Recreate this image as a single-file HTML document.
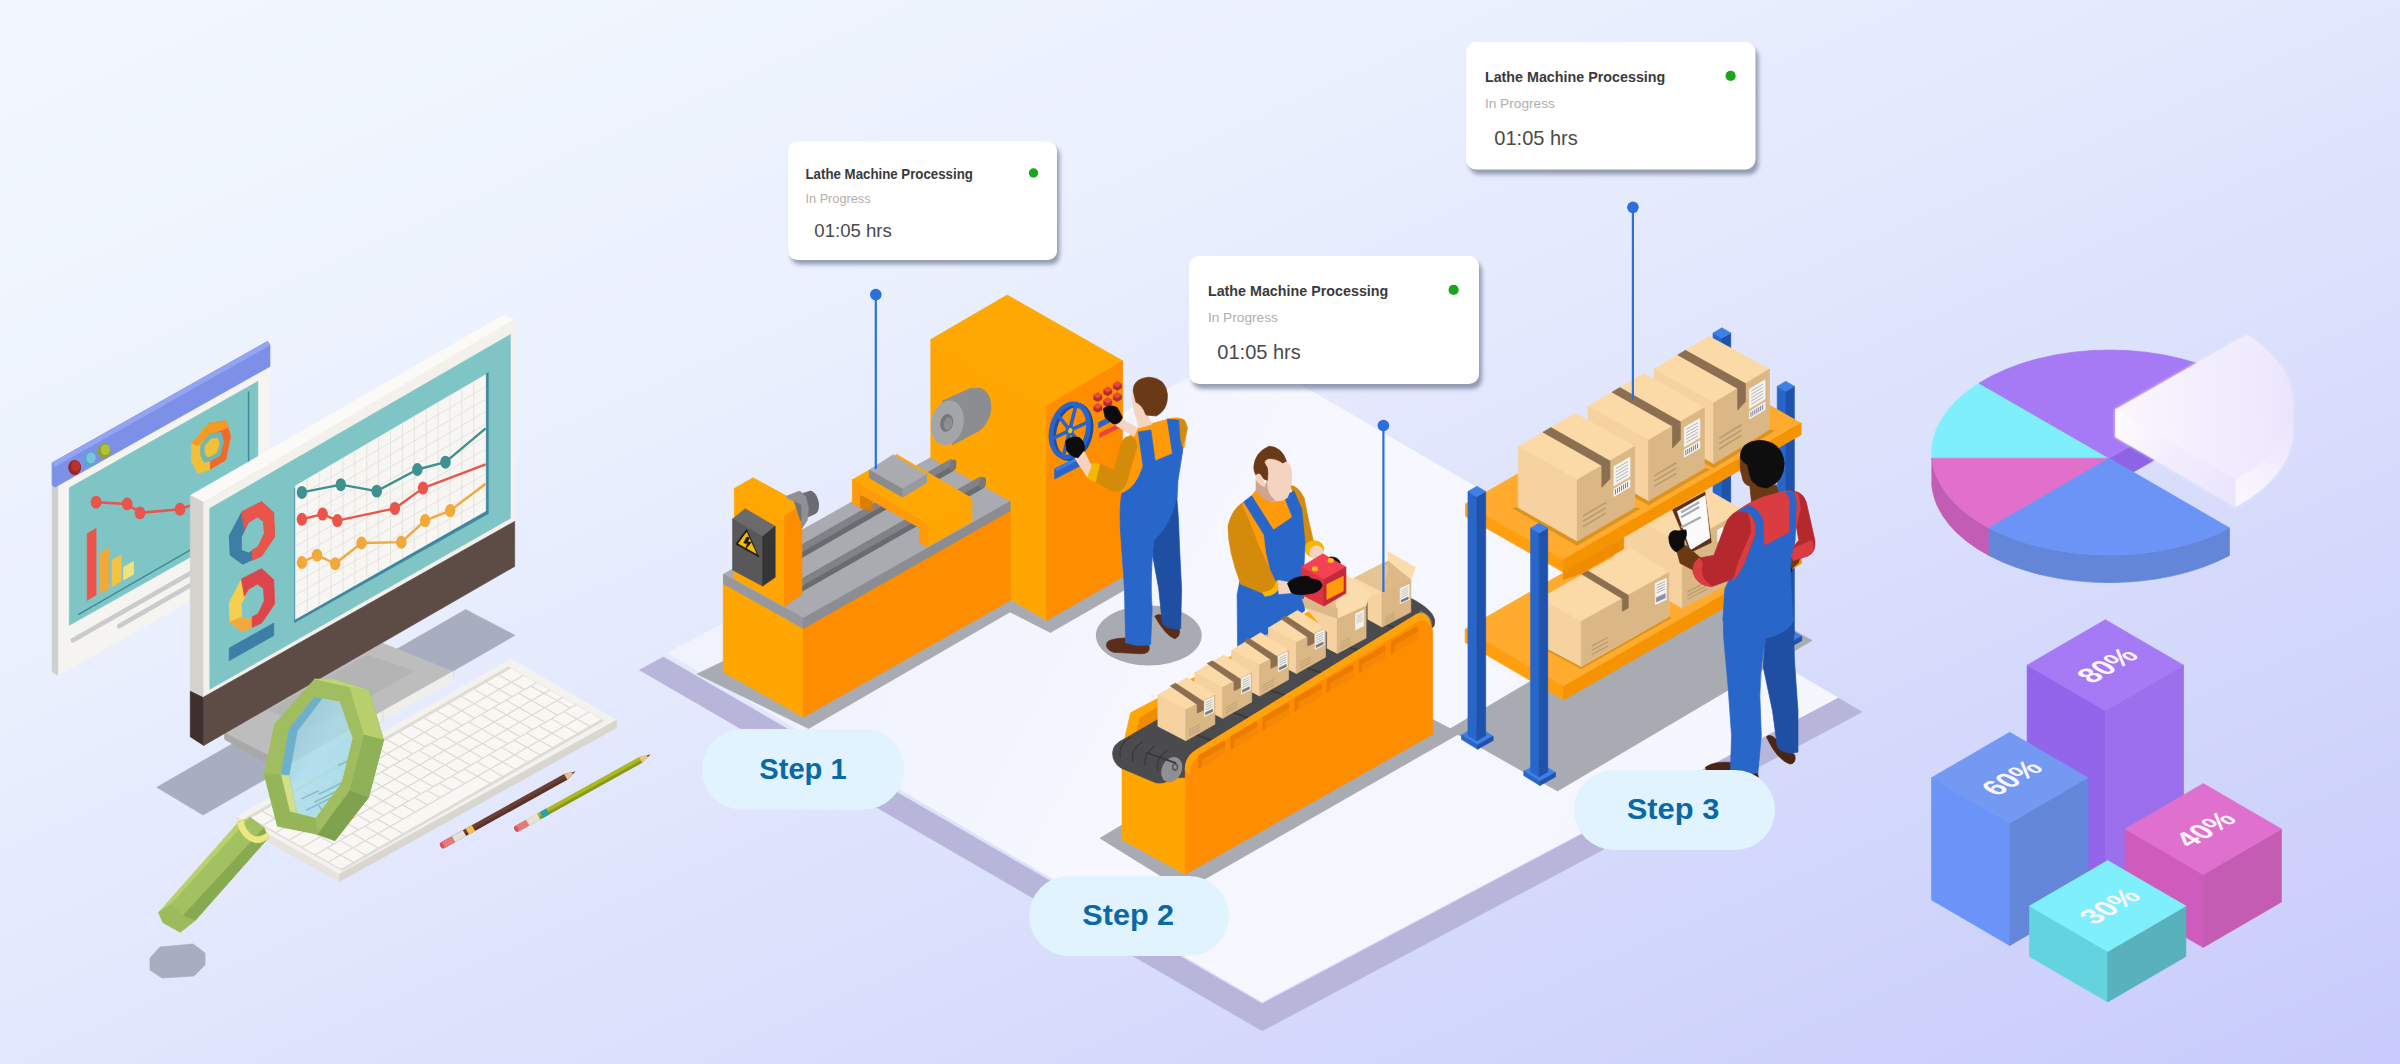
<!DOCTYPE html>
<html><head><meta charset="utf-8"><title>Factory</title>
<style>
html,body{margin:0;padding:0;}
body{width:2400px;height:1064px;overflow:hidden;font-family:"Liberation Sans",sans-serif;}
#stage{position:relative;width:2400px;height:1064px;overflow:hidden;
background:linear-gradient(to bottom right,#f3f8fe 0%,#ebf1fd 30%,#e2e7fd 50%,#d3d8fc 77%,#c8cbfb 100%);}
svg{position:absolute;left:0;top:0;}
text{font-family:"Liberation Sans",sans-serif;}
</style></head><body><div id="stage">
<svg width="2400" height="1064" viewBox="0 0 2400 1064">
<!-- p_floor --><defs>
<linearGradient id="gfloor" gradientUnits="userSpaceOnUse" x1="900" y1="470" x2="1560" y2="860">
<stop offset="0" stop-color="#f4f6fe" stop-opacity="0.75"/><stop offset="0.45" stop-color="#f6f7ff" stop-opacity="1"/><stop offset="1" stop-color="#f5f6fe"/></linearGradient>
</defs><polygon points="663.4,657 639.5,670 1262.2,1030.8 1862,712 1838.3,698.1 1262.2,1004" fill="#b7b6da" stroke="#b7b6da" stroke-width="0.7" vector-effect="non-scaling-stroke" stroke-linejoin="round" /><polygon points="667,653 1241,350 1838.3,697.5 1262.2,1002.2" fill="url(#gfloor)" />
<!-- p_desk --><polygon points="156.8,787.3 203,815 515,635.3 465.6,609.6" fill="#a9adc0" stroke="#a9adc0" stroke-width="0.7" vector-effect="non-scaling-stroke" stroke-linejoin="round" /><g transform="translate(30,320) scale(0.35714)"><polygon points="78,412 672,72 672,662 78,995" fill="#f5f4f1" stroke="#f5f4f1" stroke-width="0.7" vector-effect="non-scaling-stroke" stroke-linejoin="round" /><polygon points="62,400 78,412 78,995 62,985" fill="#cfcfcf" stroke="#cfcfcf" stroke-width="0.7" vector-effect="non-scaling-stroke" stroke-linejoin="round" /><polygon points="62,400 665,60 672,70 672,130 70,468 62,462" fill="#7d90e8" stroke="#7d90e8" stroke-width="0.7" vector-effect="non-scaling-stroke" stroke-linejoin="round" /><polygon points="62,400 665,60 672,70 70,410" fill="#94a4f0" stroke="#94a4f0" stroke-width="0.7" vector-effect="non-scaling-stroke" stroke-linejoin="round" /><polygon points="110,470 638,172 638,557 110,855" fill="#80c5c5" stroke="#80c5c5" stroke-width="0.7" vector-effect="non-scaling-stroke" stroke-linejoin="round" /><ellipse cx="125" cy="413" rx="18" ry="21" fill="#9c2322"/><ellipse cx="128" cy="409" rx="13" ry="15" fill="#b83330"/><ellipse cx="168" cy="390" rx="18" ry="21" fill="#58a9c9"/><ellipse cx="171" cy="386" rx="13" ry="15" fill="#7cc4dc"/><ellipse cx="208" cy="367" rx="18" ry="21" fill="#8fa324"/><ellipse cx="211" cy="363" rx="13" ry="15" fill="#b0c23a"/><polygon points="453,345 500,290 548,282 562,325 548,392 500,420 470,430 452,395" fill="#f2c037" stroke="#f2c037" stroke-width="0.7" vector-effect="non-scaling-stroke" stroke-linejoin="round" /><polygon points="500,290 548,282 562,325 548,392 505,418 505,355" fill="#ee6a2c" stroke="#ee6a2c" stroke-width="0.7" vector-effect="non-scaling-stroke" stroke-linejoin="round" /><polygon points="453,345 500,290 548,282 556,300 505,320 470,352" fill="#f59a23" stroke="#f59a23" stroke-width="0.7" vector-effect="non-scaling-stroke" stroke-linejoin="round" /><polygon points="478,350 505,318 535,315 542,340 533,378 505,395 487,398 478,380" fill="#6db7b7" stroke="#6db7b7" stroke-width="0.7" vector-effect="non-scaling-stroke" stroke-linejoin="round" /><polygon points="490,352 507,333 525,331 530,346 524,370 507,381 495,383 490,371" fill="#f2c037" stroke="#f2c037" stroke-width="0.7" vector-effect="non-scaling-stroke" stroke-linejoin="round" /><line x1="612" y1="200" x2="612" y2="560" stroke="#3d8a9a" stroke-width="4"/><polyline points="185,510 272,515 308,540 420,530 470,512" fill="none" stroke="#e9554b" stroke-width="7"/><ellipse cx="185" cy="510" rx="15" ry="18" fill="#e9554b"/><ellipse cx="272" cy="515" rx="15" ry="18" fill="#e9554b"/><ellipse cx="308" cy="540" rx="15" ry="18" fill="#e9554b"/><ellipse cx="420" cy="530" rx="15" ry="18" fill="#e9554b"/><polygon points="160,598 185,584 185,770 160,785" fill="#e9554b" stroke="#e9554b" stroke-width="0.7" vector-effect="non-scaling-stroke" stroke-linejoin="round" /><polygon points="195,652 220,638 220,752 195,766" fill="#f2a93b" stroke="#f2a93b" stroke-width="0.7" vector-effect="non-scaling-stroke" stroke-linejoin="round" /><polygon points="230,672 255,658 255,732 230,746" fill="#f5c242" stroke="#f5c242" stroke-width="0.7" vector-effect="non-scaling-stroke" stroke-linejoin="round" /><polygon points="262,692 290,676 290,712 262,728" fill="#f2e27a" stroke="#f2e27a" stroke-width="0.7" vector-effect="non-scaling-stroke" stroke-linejoin="round" /><line x1="135" y1="825" x2="470" y2="632" stroke="#3d8a9a" stroke-width="4"/><line x1="120" y1="897" x2="470" y2="697" stroke="#cbcbcb" stroke-width="13" stroke-linecap="round"/><line x1="250" y1="857" x2="470" y2="731" stroke="#cbcbcb" stroke-width="13" stroke-linecap="round"/></g><g transform="translate(130,580) scale(0.39484)"><polygon points="240,388 640,160 818,232 818,252 400,490 240,400" fill="#bdbdbd" stroke="#bdbdbd" stroke-width="0.7" vector-effect="non-scaling-stroke" stroke-linejoin="round" /><polygon points="640,332 818,232 818,256 640,356" fill="#f0eeea" stroke="#f0eeea" stroke-width="0.7" vector-effect="non-scaling-stroke" stroke-linejoin="round" /><polygon points="240,388 400,470 640,332 640,356 400,494 240,404" fill="#a9a9a9" stroke="#a9a9a9" stroke-width="0.7" vector-effect="non-scaling-stroke" stroke-linejoin="round" /><polygon points="400,470 640,332 640,356 400,494" fill="#f0eeea" stroke="#f0eeea" stroke-width="0.7" vector-effect="non-scaling-stroke" stroke-linejoin="round" /><polygon points="350,330 600,190 720,230 470,372" fill="#b4b4b4" stroke="#b4b4b4" stroke-width="0.7" vector-effect="non-scaling-stroke" stroke-linejoin="round" /><polygon points="270,600 965,200 1232,355 530,745" fill="#f4f2ee" stroke="#f4f2ee" stroke-width="0.7" vector-effect="non-scaling-stroke" stroke-linejoin="round" /><polygon points="270,600 530,745 530,764 270,619" fill="#e6e3de" stroke="#e6e3de" stroke-width="0.7" vector-effect="non-scaling-stroke" stroke-linejoin="round" /><polygon points="530,745 1232,355 1232,374 530,764" fill="#d9d6d0" stroke="#d9d6d0" stroke-width="0.7" vector-effect="non-scaling-stroke" stroke-linejoin="round" /><polygon points="296,601 958,220 1200,356 538,736" fill="#dedbd5" stroke="#dedbd5" stroke-width="0.7" vector-effect="non-scaling-stroke" stroke-linejoin="round" /><path d="M305.9,603.0 L334.3,586.7 L364.1,603.4 L335.7,619.8Z M337.4,584.9 L365.8,568.5 L395.6,585.3 L367.3,601.6Z M368.9,566.7 L397.3,550.4 L427.1,567.2 L398.8,583.5Z M400.5,548.6 L428.8,532.2 L458.7,549.0 L430.3,565.3Z M432.0,530.4 L460.4,514.1 L490.2,530.9 L461.8,547.2Z M463.5,512.3 L491.9,496.0 L521.7,512.7 L493.3,529.1Z M495.0,494.1 L523.4,477.8 L553.2,494.6 L524.9,510.9Z M526.6,476.0 L554.9,459.7 L584.8,476.4 L556.4,492.8Z M558.1,457.9 L586.5,441.5 L616.3,458.3 L587.9,474.6Z M589.6,439.7 L618.0,423.4 L647.8,440.2 L619.4,456.5Z M621.1,421.6 L649.5,405.2 L679.3,422.0 L651.0,438.3Z M652.7,403.4 L681.0,387.1 L710.9,403.9 L682.5,420.2Z M684.2,385.3 L712.5,369.0 L742.4,385.7 L714.0,402.1Z M715.7,367.1 L744.1,350.8 L773.9,367.6 L745.5,383.9Z M747.2,349.0 L775.6,332.7 L805.4,349.4 L777.1,365.8Z M778.7,330.9 L807.1,314.5 L837.0,331.3 L808.6,347.6Z M810.3,312.7 L838.6,296.4 L868.5,313.2 L840.1,329.5Z M841.8,294.6 L870.2,278.2 L900.0,295.0 L871.6,311.3Z M873.3,276.4 L901.7,260.1 L931.5,276.9 L903.2,293.2Z M904.8,258.3 L933.2,242.0 L963.1,258.7 L934.7,275.1Z M936.4,240.1 L964.7,223.8 L994.6,240.6 L966.2,256.9Z M339.0,621.6 L367.4,605.3 L397.2,622.1 L368.9,638.4Z M370.6,603.5 L398.9,587.2 L428.8,603.9 L400.4,620.3Z M402.1,585.3 L430.5,569.0 L460.3,585.8 L431.9,602.1Z M433.6,567.2 L462.0,550.9 L491.8,567.6 L463.4,584.0Z M465.1,549.1 L493.5,532.7 L523.3,549.5 L495.0,565.8Z M496.7,530.9 L525.0,514.6 L554.9,531.4 L526.5,547.7Z M528.2,512.8 L556.6,496.4 L586.4,513.2 L558.0,529.5Z M559.7,494.6 L588.1,478.3 L617.9,495.1 L589.5,511.4Z M591.2,476.5 L619.6,460.2 L649.4,476.9 L621.1,493.3Z M622.8,458.3 L651.1,442.0 L681.0,458.8 L652.6,475.1Z M654.3,440.2 L682.7,423.9 L712.5,440.6 L684.1,457.0Z M685.8,422.1 L714.2,405.7 L744.0,422.5 L715.6,438.8Z M717.3,403.9 L745.7,387.6 L775.5,404.4 L747.2,420.7Z M748.9,385.8 L777.2,369.4 L807.1,386.2 L778.7,402.5Z M780.4,367.6 L808.7,351.3 L838.6,368.1 L810.2,384.4Z M811.9,349.5 L840.3,333.2 L870.1,349.9 L841.7,366.3Z M843.4,331.3 L871.8,315.0 L901.6,331.8 L873.3,348.1Z M874.9,313.2 L903.3,296.9 L933.2,313.6 L904.8,330.0Z M906.5,295.1 L934.8,278.7 L964.7,295.5 L936.3,311.8Z M938.0,276.9 L966.4,260.6 L996.2,277.4 L967.8,293.7Z M969.5,258.8 L997.9,242.4 L1027.7,259.2 L999.4,275.5Z M372.2,640.3 L416.3,614.9 L446.2,631.6 L402.0,657.0Z M419.5,613.0 L447.8,596.7 L477.7,613.5 L449.3,629.8Z M451.0,594.9 L479.4,578.6 L509.2,595.3 L480.8,611.7Z M482.5,576.8 L510.9,560.4 L540.7,577.2 L512.4,593.5Z M514.0,558.6 L542.4,542.3 L572.3,559.1 L543.9,575.4Z M545.6,540.5 L573.9,524.1 L603.8,540.9 L575.4,557.2Z M577.1,522.3 L605.5,506.0 L635.3,522.8 L606.9,539.1Z M608.6,504.2 L637.0,487.9 L666.8,504.6 L638.5,521.0Z M640.1,486.0 L668.5,469.7 L698.4,486.5 L670.0,502.8Z M671.7,467.9 L700.0,451.6 L729.9,468.3 L701.5,484.7Z M703.2,449.8 L731.6,433.4 L761.4,450.2 L733.0,466.5Z M734.7,431.6 L763.1,415.3 L792.9,432.1 L764.6,448.4Z M766.2,413.5 L794.6,397.1 L824.4,413.9 L796.1,430.2Z M797.8,395.3 L826.1,379.0 L856.0,395.8 L827.6,412.1Z M829.3,377.2 L857.7,360.9 L887.5,377.6 L859.1,394.0Z M860.8,359.0 L889.2,342.7 L919.0,359.5 L890.6,375.8Z M892.3,340.9 L920.7,324.6 L950.5,341.3 L922.2,357.7Z M923.9,322.8 L952.2,306.4 L982.1,323.2 L953.7,339.5Z M955.4,304.6 L983.8,288.3 L1013.6,305.1 L985.2,321.4Z M986.9,286.5 L1015.3,270.1 L1045.1,286.9 L1016.7,303.2Z M1018.4,268.3 L1031.0,261.1 L1060.9,277.8 L1048.3,285.1Z M405.3,658.9 L449.5,633.5 L479.3,650.3 L435.2,675.7Z M452.6,631.7 L481.0,615.3 L510.8,632.1 L482.5,648.4Z M484.2,613.5 L512.5,597.2 L542.4,614.0 L514.0,630.3Z M515.7,595.4 L544.0,579.1 L573.9,595.8 L545.5,612.2Z M547.2,577.2 L575.6,560.9 L605.4,577.7 L577.0,594.0Z M578.7,559.1 L607.1,542.8 L636.9,559.5 L608.6,575.9Z M610.2,541.0 L638.6,524.6 L668.5,541.4 L640.1,557.7Z M641.8,522.8 L670.1,506.5 L700.0,523.3 L671.6,539.6Z M673.3,504.7 L701.7,488.3 L731.5,505.1 L703.1,521.4Z M704.8,486.5 L733.2,470.2 L763.0,487.0 L734.7,503.3Z M736.3,468.4 L764.7,452.1 L794.6,468.8 L766.2,485.2Z M767.9,450.2 L796.2,433.9 L826.1,450.7 L797.7,467.0Z M799.4,432.1 L827.8,415.8 L857.6,432.5 L829.2,448.9Z M830.9,414.0 L859.3,397.6 L889.1,414.4 L860.8,430.7Z M862.4,395.8 L890.8,379.5 L920.6,396.3 L892.3,412.6Z M894.0,377.7 L922.3,361.3 L952.2,378.1 L923.8,394.4Z M925.5,359.5 L953.9,343.2 L983.7,360.0 L955.3,376.3Z M957.0,341.4 L985.4,325.1 L1015.2,341.8 L986.8,358.2Z M988.5,323.2 L1016.9,306.9 L1046.7,323.7 L1018.4,340.0Z M1020.1,305.1 L1048.4,288.8 L1078.3,305.5 L1049.9,321.9Z M1051.6,287.0 L1064.2,279.7 L1094.0,296.5 L1081.4,303.7Z M438.5,677.5 L482.6,652.1 L512.5,668.9 L468.3,694.3Z M485.8,650.3 L514.2,634.0 L544.0,650.7 L515.6,667.1Z M517.3,632.2 L545.7,615.8 L575.5,632.6 L547.1,648.9Z M548.8,614.0 L577.2,597.7 L607.0,614.5 L578.7,630.8Z M580.4,595.9 L608.7,579.5 L638.6,596.3 L610.2,612.6Z M611.9,577.7 L640.2,561.4 L670.1,578.2 L641.7,594.5Z M643.4,559.6 L671.8,543.3 L701.6,560.0 L673.2,576.4Z M674.9,541.4 L703.3,525.1 L733.1,541.9 L704.8,558.2Z M706.4,523.3 L734.8,507.0 L764.7,523.7 L736.3,540.1Z M738.0,505.2 L766.3,488.8 L796.2,505.6 L767.8,521.9Z M769.5,487.0 L797.9,470.7 L827.7,487.5 L799.3,503.8Z M801.0,468.9 L829.4,452.5 L859.2,469.3 L830.9,485.6Z M832.5,450.7 L860.9,434.4 L890.7,451.2 L862.4,467.5Z M864.1,432.6 L892.4,416.3 L922.3,433.0 L893.9,449.4Z M895.6,414.4 L924.0,398.1 L953.8,414.9 L925.4,431.2Z M927.1,396.3 L955.5,380.0 L985.3,396.7 L956.9,413.1Z M958.6,378.2 L987.0,361.8 L1016.8,378.6 L988.5,394.9Z M990.2,360.0 L1018.5,343.7 L1048.4,360.5 L1020.0,376.8Z M1021.7,341.9 L1050.1,325.5 L1079.9,342.3 L1051.5,358.6Z M1053.2,323.7 L1081.6,307.4 L1111.4,324.2 L1083.0,340.5Z M1084.7,305.6 L1097.3,298.3 L1127.2,315.1 L1114.6,322.4Z M471.6,696.2 L500.0,679.8 L529.9,696.6 L501.5,712.9Z M503.2,678.0 L531.5,661.7 L561.4,678.4 L533.0,694.8Z M534.7,659.9 L563.1,643.5 L592.9,660.3 L564.5,676.6Z M566.2,641.7 L594.6,625.4 L624.4,642.2 L596.1,658.5Z M597.7,623.6 L626.1,607.3 L655.9,624.0 L627.6,640.3Z M629.3,605.4 L657.6,589.1 L687.5,605.9 L659.1,622.2Z M660.8,587.3 L689.2,571.0 L719.0,587.7 L690.6,604.1Z M692.3,569.2 L720.7,552.8 L750.5,569.6 L722.1,585.9Z M723.8,551.0 L752.2,534.7 L782.0,551.4 L753.7,567.8Z M755.4,532.9 L783.7,516.5 L813.6,533.3 L785.2,549.6Z M786.9,514.7 L815.3,498.4 L845.1,515.2 L816.7,531.5Z M818.4,496.6 L846.8,480.3 L876.6,497.0 L848.2,513.3Z M849.9,478.4 L878.3,462.1 L908.1,478.9 L879.8,495.2Z M881.5,460.3 L909.8,444.0 L939.7,460.7 L911.3,477.1Z M913.0,442.2 L941.3,425.8 L971.2,442.6 L942.8,458.9Z M944.5,424.0 L972.9,407.7 L1002.7,424.4 L974.3,440.8Z M976.0,405.9 L1004.4,389.5 L1034.2,406.3 L1005.9,422.6Z M1007.5,387.7 L1035.9,371.4 L1065.8,388.2 L1037.4,404.5Z M1039.1,369.6 L1067.4,353.3 L1097.3,370.0 L1068.9,386.3Z M1070.6,351.4 L1099.0,335.1 L1128.8,351.9 L1100.4,368.2Z M1102.1,333.3 L1130.5,317.0 L1160.3,333.7 L1132.0,350.1Z M504.8,714.8 L533.2,698.5 L563.0,715.2 L534.6,731.5Z M536.3,696.6 L564.7,680.3 L594.5,697.1 L566.2,713.4Z M567.8,678.5 L596.2,662.2 L626.0,678.9 L597.7,695.3Z M599.4,660.4 L627.7,644.0 L657.6,660.8 L629.2,677.1Z M630.9,642.2 L659.3,625.9 L689.1,642.6 L660.7,659.0Z M662.4,624.1 L879.9,498.9 L909.8,515.6 L692.2,640.8Z M883.1,497.1 L911.5,480.7 L941.3,497.5 L912.9,513.8Z M914.6,478.9 L943.0,462.6 L972.8,479.4 L944.4,495.7Z M946.1,460.8 L974.5,444.5 L1004.3,461.2 L976.0,477.5Z M977.7,442.6 L1006.0,426.3 L1035.9,443.1 L1007.5,459.4Z M1009.2,424.5 L1037.5,408.2 L1067.4,424.9 L1039.0,441.3Z M1040.7,406.4 L1069.1,390.0 L1098.9,406.8 L1070.5,423.1Z M1072.2,388.2 L1100.6,371.9 L1130.4,388.6 L1102.1,405.0Z M1103.7,370.1 L1132.1,353.7 L1162.0,370.5 L1133.6,386.8Z M1135.3,351.9 L1163.6,335.6 L1193.5,352.4 L1165.1,368.7Z" fill="#f8f7f3"/></g><g transform="translate(170,300) scale(0.43243)"><polygon points="47,452 770,36 797,45 78,468" fill="#fbfaf7" stroke="#fbfaf7" stroke-width="0.7" vector-effect="non-scaling-stroke" stroke-linejoin="round" /><polygon points="47,452 78,468 78,1030 47,1010" fill="#d4d2cf" stroke="#d4d2cf" stroke-width="0.7" vector-effect="non-scaling-stroke" stroke-linejoin="round" /><polygon points="78,468 797,45 797,520 78,920" fill="#f3f1ec" stroke="#f3f1ec" stroke-width="0.7" vector-effect="non-scaling-stroke" stroke-linejoin="round" /><polygon points="47,905 78,920 78,1030 47,1010" fill="#3e302c" stroke="#3e302c" stroke-width="0.7" vector-effect="non-scaling-stroke" stroke-linejoin="round" /><polygon points="78,918 797,512 797,616 78,1030" fill="#5d4b45" stroke="#5d4b45" stroke-width="0.7" vector-effect="non-scaling-stroke" stroke-linejoin="round" /><polygon points="92,482 787,80 787,505 92,900" fill="#80c5c5" stroke="#80c5c5" stroke-width="0.7" vector-effect="non-scaling-stroke" stroke-linejoin="round" /><polygon points="288,436 736,168 736,494 288,746" fill="#3d86a0" stroke="#3d86a0" stroke-width="0.7" vector-effect="non-scaling-stroke" stroke-linejoin="round" /><polygon points="290,430 730,172 730,488 290,738" fill="#f7f6f3" stroke="#f7f6f3" stroke-width="0.7" vector-effect="non-scaling-stroke" stroke-linejoin="round" /><path d="M317.5,413.9 V722.4 M345.0,397.7 V706.7 M372.5,381.6 V691.1 M400.0,365.5 V675.5 M427.5,349.4 V659.9 M455.0,333.2 V644.2 M482.5,317.1 V628.6 M510.0,301.0 V613.0 M537.5,284.9 V597.4 M565.0,268.7 V581.7 M592.5,252.6 V566.1 M620.0,236.5 V550.5 M647.5,220.4 V534.9 M675.0,204.2 V519.2 M702.5,188.1 V503.6 M290,458.0 L730,200.7 M290,486.0 L730,229.5 M290,514.0 L730,258.2 M290,542.0 L730,286.9 M290,570.0 L730,315.6 M290,598.0 L730,344.4 M290,626.0 L730,373.1 M290,654.0 L730,401.8 M290,682.0 L730,430.6 M290,710.0 L730,459.3" fill="none" stroke="#dedcd6" stroke-width="1.6"/><polyline points="305,445 395,427 478,442 572,392 637,375 730,297" fill="none" stroke="#3f9090" stroke-width="5.5" stroke-linejoin="round"/><ellipse cx="305" cy="445" rx="12" ry="15" fill="#3f9090"/><ellipse cx="395" cy="427" rx="12" ry="15" fill="#3f9090"/><ellipse cx="478" cy="442" rx="12" ry="15" fill="#3f9090"/><ellipse cx="572" cy="392" rx="12" ry="15" fill="#3f9090"/><ellipse cx="637" cy="375" rx="12" ry="15" fill="#3f9090"/><polyline points="305,507 353,495 387,510 520,482 585,435 730,380" fill="none" stroke="#e9554b" stroke-width="5.5" stroke-linejoin="round"/><ellipse cx="305" cy="507" rx="12" ry="15" fill="#e9554b"/><ellipse cx="353" cy="495" rx="12" ry="15" fill="#e9554b"/><ellipse cx="387" cy="510" rx="12" ry="15" fill="#e9554b"/><ellipse cx="520" cy="482" rx="12" ry="15" fill="#e9554b"/><ellipse cx="585" cy="435" rx="12" ry="15" fill="#e9554b"/><polyline points="305,607 340,590 382,610 443,562 535,560 590,510 648,487 730,425" fill="none" stroke="#f2a93b" stroke-width="5.5" stroke-linejoin="round"/><ellipse cx="305" cy="607" rx="12" ry="15" fill="#f2a93b"/><ellipse cx="340" cy="590" rx="12" ry="15" fill="#f2a93b"/><ellipse cx="382" cy="610" rx="12" ry="15" fill="#f2a93b"/><ellipse cx="443" cy="562" rx="12" ry="15" fill="#f2a93b"/><ellipse cx="535" cy="560" rx="12" ry="15" fill="#f2a93b"/><ellipse cx="590" cy="510" rx="12" ry="15" fill="#f2a93b"/><ellipse cx="648" cy="487" rx="12" ry="15" fill="#f2a93b"/><path d="M136,545 L165,490 L212,466 L240,492 L242,548 L212,592 L168,612 L138,590 Z M166,548 L166,578 L182,584 L204,570 L218,540 L216,512 L202,502 L182,514 Z" fill="#3d7ea6" fill-rule="evenodd"/><path d="M165,490 L212,466 L240,492 L242,548 L212,592 L190,602 L190,578 L204,570 L218,540 L216,512 L202,502 L182,514 L172,530 Z" fill="#e9554b" stroke="#e9554b" stroke-width="0.7" vector-effect="non-scaling-stroke" stroke-linejoin="round" /><path d="M136,700 L165,645 L212,621 L240,647 L242,703 L212,747 L168,767 L138,745 Z M166,703 L166,733 L182,739 L204,725 L218,695 L216,667 L202,657 L182,669 Z" fill="#f5d04f" fill-rule="evenodd"/><path d="M138,745 L168,767 L190,757 L190,733 L182,739 L166,733 Z" fill="#f2a93b" stroke="#f2a93b" stroke-width="0.7" vector-effect="non-scaling-stroke" stroke-linejoin="round" /><path d="M165,645 L212,621 L240,647 L242,703 L212,747 L190,757 L190,733 L204,725 L218,695 L216,667 L202,657 L182,669 L172,685 Z" fill="#dc454c" stroke="#dc454c" stroke-width="0.7" vector-effect="non-scaling-stroke" stroke-linejoin="round" /><polygon points="137,805 240,747 240,776 137,834" fill="#3d7ea6" stroke="#3d7ea6" stroke-width="0.7" vector-effect="non-scaling-stroke" stroke-linejoin="round" /></g><g transform="translate(130,580) scale(0.39484)"><polygon points="788.9,663.6 1099.4,491.2 1128.0,485.0 1107.6,506.0 797.1,678.4" fill="#6b3f33"/><polygon points="793.5,671.9 1104.0,499.5 1107.6,506.0 797.1,678.4" fill="#000" opacity="0.18"/><polygon points="1099.4,491.2 1128.0,485.0 1107.6,506.0" fill="#e9c48a"/><polygon points="1119.0,487.4 1128.0,485.0 1121.2,491.4" fill="#444"/><polygon points="785.4,665.5 815.1,649.0 823.4,663.9 793.6,680.4" fill="#e8787c"/><polygon points="815.1,649.0 843.1,633.5 851.3,648.3 823.4,663.9" fill="#e6e2da"/><polygon points="850.1,629.6 865.8,620.9 874.1,635.7 858.3,644.5" fill="#f2c14e"/><ellipse cx="790.4" cy="672.5" rx="5" ry="8" fill="#d9565d" transform="rotate(-29 790.4 672.5)"/><polygon points="976.9,621.6 1289.4,448.2 1318.0,442.0 1297.6,463.0 985.1,636.4" fill="#a9b91f"/><polygon points="981.5,629.9 1294.0,456.5 1297.6,463.0 985.1,636.4" fill="#000" opacity="0.18"/><polygon points="1289.4,448.2 1318.0,442.0 1297.6,463.0" fill="#e9c48a"/><polygon points="1309.0,444.4 1318.0,442.0 1311.2,448.4" fill="#444"/><polygon points="973.4,623.5 1003.1,607.0 1011.4,621.9 981.6,638.4" fill="#e8787c"/><polygon points="1003.1,607.0 1031.1,591.5 1039.3,606.3 1011.4,621.9" fill="#e6e2da"/><polygon points="1038.1,587.6 1053.8,578.9 1062.1,593.7 1046.3,602.5" fill="#2ba3a6"/><ellipse cx="978.4" cy="630.5" rx="5" ry="8" fill="#d9565d" transform="rotate(-29 978.4 630.5)"/></g><g transform="translate(140,660) scale(0.31963)"><polygon points="310,505 345,492 98,762 58,790" fill="#b9d06d" stroke="#b9d06d" stroke-width="0.7" vector-effect="non-scaling-stroke" stroke-linejoin="round" /><polygon points="345,492 388,525 134,800 98,762" fill="#a3c160" stroke="#a3c160" stroke-width="0.7" vector-effect="non-scaling-stroke" stroke-linejoin="round" /><polygon points="388,525 402,556 172,816 134,800" fill="#87aa50" stroke="#87aa50" stroke-width="0.7" vector-effect="non-scaling-stroke" stroke-linejoin="round" /><polygon points="58,790 98,762 134,800 172,816 126,852 72,822" fill="#9cbb5c" stroke="#9cbb5c" stroke-width="0.7" vector-effect="non-scaling-stroke" stroke-linejoin="round" /><path d="M305,512 Q318,560 362,572 Q392,572 404,552 L398,540 Q380,556 358,552 Q330,540 322,500 Z" fill="#eee884" stroke="#eee884" stroke-width="0.7" vector-effect="non-scaling-stroke" stroke-linejoin="round" /><polygon points="545,60 715,95 762,250 715,430 610,565 555,545 655,410 700,235 655,85" fill="#8db05a" stroke="#8db05a" stroke-width="0.7" vector-effect="non-scaling-stroke" stroke-linejoin="round" /><polygon points="545,60 600,60 715,95 655,85" fill="#c1d673" stroke="#c1d673" stroke-width="0.7" vector-effect="non-scaling-stroke" stroke-linejoin="round" /><polygon points="655,85 715,95 762,250 700,235" fill="#b7cf6c" stroke="#b7cf6c" stroke-width="0.7" vector-effect="non-scaling-stroke" stroke-linejoin="round" /><polygon points="700,235 762,250 715,430 655,410" fill="#8fb158" stroke="#8fb158" stroke-width="0.7" vector-effect="non-scaling-stroke" stroke-linejoin="round" /><polygon points="655,410 715,430 610,565 555,545" fill="#7fa24e" stroke="#7fa24e" stroke-width="0.7" vector-effect="non-scaling-stroke" stroke-linejoin="round" /><defs><linearGradient id="lens" x1="0" y1="0" x2="1" y2="1"><stop offset="0" stop-color="#8fc4d2" stop-opacity="0.85"/><stop offset="0.5" stop-color="#a9dcea" stop-opacity="0.82"/><stop offset="1" stop-color="#9ad6e4" stop-opacity="0.9"/></linearGradient></defs><polygon points="545,115 625,130 665,245 630,385 548,495 468,475 440,360 465,215" fill="url(#lens)" /><path d="M560,420 L640,380 M545,445 L620,408 M520,470 L600,430 M505,435 L560,408 M620,330 L650,316 M560,455 L575,480 M600,432 L612,452" stroke="#7fb4c4" stroke-width="5" fill="none" opacity="0.8"/><polygon points="545,115 570,120 492,222 466,362 490,480 468,475 440,360 465,215" fill="#6eb0cb" stroke="#6eb0cb" stroke-width="0.7" vector-effect="non-scaling-stroke" stroke-linejoin="round" /><polygon points="440,360 466,362 490,480 468,475" fill="#d3e08a" stroke="#d3e08a" stroke-width="0.7" vector-effect="non-scaling-stroke" stroke-linejoin="round" /><path d="M545,60 L655,85 L700,235 L655,410 L555,545 L430,520 L388,355 L420,200 Z M545,115 L465,215 L440,360 L468,475 L548,495 L630,385 L665,245 L625,130 Z" fill="#a0be60" fill-rule="evenodd"/><path d="M388,355 L430,520 L555,545 L548,495 L468,475 L440,360 Z" fill="#96b559" stroke="#96b559" stroke-width="0.7" vector-effect="non-scaling-stroke" stroke-linejoin="round" /></g><polygon points="150,958 160,947 193,944 205,953 205,965 194,976 162,978 150,970" fill="#a9adc0" stroke="#a9adc0" stroke-width="0.7" vector-effect="non-scaling-stroke" stroke-linejoin="round" />
<!-- p_lathe --><polygon points="697,674 724,661 730,640 1010,560 1122.6,570 1126.5,588.8 1050.4,632.5 1010,612 808.6,728.5" fill="#a9abb3" stroke="#a9abb3" stroke-width="0.7" vector-effect="non-scaling-stroke" stroke-linejoin="round" /><g transform="translate(900,280) scale(0.37602)"><polygon points="82,158 285,40 592,215 390,335" fill="#ffa702" stroke="#ffa702" stroke-width="0.7" vector-effect="non-scaling-stroke" stroke-linejoin="round" /><polygon points="82,158 390,335 390,905 82,728" fill="#ffa602" stroke="#ffa602" stroke-width="0.7" vector-effect="non-scaling-stroke" stroke-linejoin="round" /><polygon points="390,335 592,215 592,790 390,905" fill="#ff8d00" stroke="#ff8d00" stroke-width="0.7" vector-effect="non-scaling-stroke" stroke-linejoin="round" /><path d="M112,322 L190,287 A44,60 -12 0 1 208,402 L140,438 Z" fill="#8b8d91" stroke="#8b8d91" stroke-width="0.7" vector-effect="non-scaling-stroke" stroke-linejoin="round" /><ellipse cx="200" cy="345" rx="42" ry="59" transform="rotate(12 200 345)" fill="#8b8d91"/><ellipse cx="126" cy="380" rx="43" ry="60" transform="rotate(12 126 380)" fill="#a3a5a9"/><ellipse cx="124" cy="380" rx="17" ry="24" transform="rotate(12 124 380)" fill="#75777b"/><ellipse cx="128" cy="382" rx="11" ry="17" transform="rotate(12 128 382)" fill="#8d8f93"/></g><g transform="translate(700,420) scale(0.29126)"><polygon points="80,560 355,715 355,1020 80,865" fill="#ffa602" stroke="#ffa602" stroke-width="0.7" vector-effect="non-scaling-stroke" stroke-linejoin="round" /><polygon points="355,715 1065,310 1065,620 355,1020" fill="#ff8d00" stroke="#ff8d00" stroke-width="0.7" vector-effect="non-scaling-stroke" stroke-linejoin="round" /><polygon points="80,530 790,130 1065,280 355,680" fill="#a9abb1" stroke="#a9abb1" stroke-width="0.7" vector-effect="non-scaling-stroke" stroke-linejoin="round" /><polygon points="80,530 355,680 355,716 80,562" fill="#96989d" stroke="#96989d" stroke-width="0.7" vector-effect="non-scaling-stroke" stroke-linejoin="round" /><polygon points="355,680 1065,280 1065,312 355,716" fill="#8b8d92" stroke="#8b8d92" stroke-width="0.7" vector-effect="non-scaling-stroke" stroke-linejoin="round" /></g><g transform="translate(780,440) scale(0.16913)"><line x1="60" y1="702" x2="1010" y2="156" stroke="#696b6f" stroke-width="62" stroke-linecap="round"/><line x1="60" y1="680" x2="1010" y2="134" stroke="#808286" stroke-width="40" stroke-linecap="round"/><ellipse cx="1024" cy="148" rx="18" ry="34" transform="rotate(15 1024 148)" fill="#75777b"/><line x1="60" y1="902" x2="1185" y2="260" stroke="#696b6f" stroke-width="62" stroke-linecap="round"/><line x1="60" y1="880" x2="1185" y2="238" stroke="#808286" stroke-width="40" stroke-linecap="round"/><ellipse cx="1199" cy="252" rx="18" ry="34" transform="rotate(15 1199 252)" fill="#75777b"/></g><g transform="translate(700,420) scale(0.29126)"><polygon points="118,235 182,198 350,290 290,330" fill="#ffa702" stroke="#ffa702" stroke-width="0.7" vector-effect="non-scaling-stroke" stroke-linejoin="round" /><polygon points="118,235 290,330 290,640 118,545" fill="#ffa602" stroke="#ffa602" stroke-width="0.7" vector-effect="non-scaling-stroke" stroke-linejoin="round" /><polygon points="290,330 350,290 350,598 290,640" fill="#ff8d00" stroke="#ff8d00" stroke-width="0.7" vector-effect="non-scaling-stroke" stroke-linejoin="round" /><path d="M318,262 L372,246 A22,40 -10 0 1 395,322 L345,345 Z" fill="#707276" stroke="#707276" stroke-width="0.7" vector-effect="non-scaling-stroke" stroke-linejoin="round" /><ellipse cx="385" cy="284" rx="22" ry="40" transform="rotate(-12 385 284)" fill="#6a6c70"/><path d="M300,268 L330,250 A22,52 0 0 1 350,350 L350,370 L350,290 Z" fill="#8c8e93" stroke="#8c8e93" stroke-width="0.7" vector-effect="non-scaling-stroke" stroke-linejoin="round" /><polygon points="296,262 332,248 362,262 372,300 368,345 350,372 350,290" fill="#8e9095" stroke="#8e9095" stroke-width="0.7" vector-effect="non-scaling-stroke" stroke-linejoin="round" /><polygon points="112,340 155,305 258,365 215,400" fill="#6b6b6d" stroke="#6b6b6d" stroke-width="0.7" vector-effect="non-scaling-stroke" stroke-linejoin="round" /><polygon points="112,340 215,400 215,570 112,515" fill="#58585a" stroke="#58585a" stroke-width="0.7" vector-effect="non-scaling-stroke" stroke-linejoin="round" /><polygon points="215,400 258,365 258,540 215,570" fill="#353537" stroke="#353537" stroke-width="0.7" vector-effect="non-scaling-stroke" stroke-linejoin="round" /><polygon points="160,376 123,426 202,470" fill="#1c1c1c" stroke="#1c1c1c" stroke-width="0.7" vector-effect="non-scaling-stroke" stroke-linejoin="round" /><polygon points="160,386 132,424 193,458" fill="#f6bd07" stroke="#f6bd07" stroke-width="0.7" vector-effect="non-scaling-stroke" stroke-linejoin="round" /><path d="M160,402 L150,422 L163,424 L156,444 L176,420 L163,418 L170,404 Z" fill="#1c1c1c" stroke="#1c1c1c" stroke-width="0.7" vector-effect="non-scaling-stroke" stroke-linejoin="round" /></g><g transform="translate(780,440) scale(0.16913)"><polygon points="472,322 545,362 545,420 472,400" fill="#de7c00" stroke="#de7c00" stroke-width="0.7" vector-effect="non-scaling-stroke" stroke-linejoin="round" /><polygon points="428,235 690,85 1135,345 870,500" fill="#ffa803" stroke="#ffa803" stroke-width="0.7" vector-effect="non-scaling-stroke" stroke-linejoin="round" /><polygon points="870,500 1135,345 1135,482 870,632" fill="#ffa602" stroke="#ffa602" stroke-width="0.7" vector-effect="non-scaling-stroke" stroke-linejoin="round" /><path d="M428,235 L870,500 L870,632 L826,610 L826,540 Q826,520 806,508 L472,318 L472,400 L428,375 Z" fill="#ff9a08" stroke="#ff9a08" stroke-width="0.7" vector-effect="non-scaling-stroke" stroke-linejoin="round" /><polygon points="528,178 668,88 868,205 725,290" fill="#a9abb1" stroke="#a9abb1" stroke-width="0.7" vector-effect="non-scaling-stroke" stroke-linejoin="round" /><polygon points="528,178 725,290 725,338 528,224" fill="#8a8c91" stroke="#8a8c91" stroke-width="0.7" vector-effect="non-scaling-stroke" stroke-linejoin="round" /><polygon points="725,290 868,205 868,252 725,338" fill="#98999f" stroke="#98999f" stroke-width="0.7" vector-effect="non-scaling-stroke" stroke-linejoin="round" /></g><g transform="translate(1030,360) scale(0.30075)"><ellipse cx="395" cy="916" rx="176" ry="100" fill="#a9abb3"/><g transform="rotate(14 135 235)"><ellipse cx="141" cy="237" rx="60" ry="90" fill="none" stroke="#1d4c9f" stroke-width="17"/><ellipse cx="132" cy="235" rx="60" ry="90" fill="none" stroke="#2765cb" stroke-width="16"/><line x1="132" y1="147" x2="132" y2="323" stroke="#2765cb" stroke-width="12"/><line x1="76" y1="190" x2="188" y2="280" stroke="#2765cb" stroke-width="12"/><line x1="76" y1="280" x2="188" y2="190" stroke="#2765cb" stroke-width="12"/><ellipse cx="132" cy="235" rx="14" ry="18" fill="#2765cb"/><ellipse cx="134" cy="235" rx="7" ry="9" fill="#f2c500"/></g><polygon points="82,362 178,314 178,346 82,396" fill="#2765cb" stroke="#2765cb" stroke-width="0.7" vector-effect="non-scaling-stroke" stroke-linejoin="round" /><polygon points="82,362 178,314 186,320 90,368" fill="#3f7be0" stroke="#3f7be0" stroke-width="0.7" vector-effect="non-scaling-stroke" stroke-linejoin="round" /><polygon points="212,118 225,109 239,117 239,130 225,138 212,131" fill="#b42a2d" stroke="#b42a2d" stroke-width="0.7" vector-effect="non-scaling-stroke" stroke-linejoin="round" /><polygon points="212,118 225,109 239,117 225,126" fill="#ea4a44" stroke="#ea4a44" stroke-width="0.7" vector-effect="non-scaling-stroke" stroke-linejoin="round" /><polygon points="245,99 258,90 272,98 272,111 258,119 245,112" fill="#b42a2d" stroke="#b42a2d" stroke-width="0.7" vector-effect="non-scaling-stroke" stroke-linejoin="round" /><polygon points="245,99 258,90 272,98 258,107" fill="#ea4a44" stroke="#ea4a44" stroke-width="0.7" vector-effect="non-scaling-stroke" stroke-linejoin="round" /><polygon points="277,81 290,72 304,80 304,93 290,101 277,94" fill="#b42a2d" stroke="#b42a2d" stroke-width="0.7" vector-effect="non-scaling-stroke" stroke-linejoin="round" /><polygon points="277,81 290,72 304,80 290,89" fill="#ea4a44" stroke="#ea4a44" stroke-width="0.7" vector-effect="non-scaling-stroke" stroke-linejoin="round" /><polygon points="212,154 225,145 239,153 239,166 225,174 212,167" fill="#b42a2d" stroke="#b42a2d" stroke-width="0.7" vector-effect="non-scaling-stroke" stroke-linejoin="round" /><polygon points="212,154 225,145 239,153 225,162" fill="#ea4a44" stroke="#ea4a44" stroke-width="0.7" vector-effect="non-scaling-stroke" stroke-linejoin="round" /><polygon points="245,135 258,126 272,134 272,147 258,155 245,148" fill="#b42a2d" stroke="#b42a2d" stroke-width="0.7" vector-effect="non-scaling-stroke" stroke-linejoin="round" /><polygon points="245,135 258,126 272,134 258,143" fill="#ea4a44" stroke="#ea4a44" stroke-width="0.7" vector-effect="non-scaling-stroke" stroke-linejoin="round" /><polygon points="277,118 290,109 304,117 304,130 290,138 277,131" fill="#b42a2d" stroke="#b42a2d" stroke-width="0.7" vector-effect="non-scaling-stroke" stroke-linejoin="round" /><polygon points="277,118 290,109 304,117 290,126" fill="#ea4a44" stroke="#ea4a44" stroke-width="0.7" vector-effect="non-scaling-stroke" stroke-linejoin="round" /><polygon points="228,208 278,183 278,200 228,226" fill="#2765cb" stroke="#2765cb" stroke-width="0.7" vector-effect="non-scaling-stroke" stroke-linejoin="round" /><polygon points="232,243 298,211 298,225 232,258" fill="#e4463d" stroke="#e4463d" stroke-width="0.7" vector-effect="non-scaling-stroke" stroke-linejoin="round" /><path d="M415,852 Q425,842 440,850 L496,892 Q502,918 482,927 Q452,918 415,852 Z" fill="#5a2c1a" stroke="#5a2c1a" stroke-width="0.7" vector-effect="non-scaling-stroke" stroke-linejoin="round" /><path d="M410,600 Q455,560 488,455 L493,520 L498,640 L504,760 L501,893 Q470,900 440,878 L428,760 L406,640 Z" fill="#1f4fa2" stroke="#1f4fa2" stroke-width="0.7" vector-effect="non-scaling-stroke" stroke-linejoin="round" /><path d="M255,942 Q258,926 322,924 L396,950 Q402,976 370,977 L278,972 Q250,962 255,942 Z" fill="#5a2c1a" stroke="#5a2c1a" stroke-width="0.7" vector-effect="non-scaling-stroke" stroke-linejoin="round" /><path d="M303,455 Q296,520 303,600 L314,760 L318,940 Q360,955 401,946 L406,830 Q398,720 412,600 Q470,545 488,455 Z" fill="#2966c9" stroke="#2966c9" stroke-width="0.7" vector-effect="non-scaling-stroke" stroke-linejoin="round" /><path d="M328,255 Q362,214 402,212 L470,194 Q516,184 523,226 L512,292 L412,338 L400,420 L306,452 L308,340 Z" fill="#ff9a0b" stroke="#ff9a0b" stroke-width="0.7" vector-effect="non-scaling-stroke" stroke-linejoin="round" /><path d="M296,192 L358,226 L346,254 L286,218 Z" fill="#f4d4c0" stroke="#f4d4c0" stroke-width="0.7" vector-effect="non-scaling-stroke" stroke-linejoin="round" /><path d="M244,162 Q262,144 290,158 L307,190 Q300,216 276,212 L250,192 Z" fill="#0c0c0c" stroke="#0c0c0c" stroke-width="0.7" vector-effect="non-scaling-stroke" stroke-linejoin="round" /><path d="M350,178 L388,176 L404,214 L362,226 Z" fill="#f4d4c0" stroke="#f4d4c0" stroke-width="0.7" vector-effect="non-scaling-stroke" stroke-linejoin="round" /><path d="M343,100 Q334,130 344,152 L350,186 Q366,198 388,182 Q374,150 354,138 Z" fill="#f4d4c0" stroke="#f4d4c0" stroke-width="0.7" vector-effect="non-scaling-stroke" stroke-linejoin="round" /><path d="M343,102 Q343,62 395,57 Q452,60 457,115 Q459,166 420,186 L386,183 Q374,150 352,140 Z" fill="#6a3a16" stroke="#6a3a16" stroke-width="0.7" vector-effect="non-scaling-stroke" stroke-linejoin="round" /><path d="M360,239 L402,233 L416,336 L474,311 L456,196 L497,200 L508,300 L492,400 L489,458 L304,458 L305,444 Q355,425 376,352 Z" fill="#2966c9" stroke="#2966c9" stroke-width="0.7" vector-effect="non-scaling-stroke" stroke-linejoin="round" /><polygon points="497,196 513,199 523,226 516,256 506,288 500,255" fill="#d48b0b" stroke="#d48b0b" stroke-width="0.7" vector-effect="non-scaling-stroke" stroke-linejoin="round" /><path d="M320,256 Q352,246 356,288 L318,418 Q296,446 264,433 L214,401 L228,344 L280,366 L298,300 Q300,270 320,256 Z" fill="#d48b0b" stroke="#d48b0b" stroke-width="0.7" vector-effect="non-scaling-stroke" stroke-linejoin="round" /><path d="M196,350 Q214,338 232,346 L218,404 Q198,402 188,388 Z" fill="#f4b703" stroke="#f4b703" stroke-width="0.7" vector-effect="non-scaling-stroke" stroke-linejoin="round" /><path d="M158,304 L176,296 L204,352 L190,388 L150,328 Z" fill="#f4d4c0" stroke="#f4d4c0" stroke-width="0.7" vector-effect="non-scaling-stroke" stroke-linejoin="round" /><path d="M118,270 Q135,250 165,258 Q185,275 180,300 L160,325 Q135,322 122,300 Z" fill="#0c0c0c" stroke="#0c0c0c" stroke-width="0.7" vector-effect="non-scaling-stroke" stroke-linejoin="round" /></g>
<!-- p_conv --><g transform="translate(1100,540) scale(0.32907)"><polygon points="0,906 67,866 1010,545 1092,588 312,1034 190,1024" fill="#a9abb3" stroke="#a9abb3" stroke-width="0.7" vector-effect="non-scaling-stroke" stroke-linejoin="round" /></g><g transform="translate(1200,430) scale(0.23496)"><path d="M383,236 Q414,234 443,288 L462,384 L484,478 L446,505 L425,330 Z" fill="#d48b0b" stroke="#d48b0b" stroke-width="0.7" vector-effect="non-scaling-stroke" stroke-linejoin="round" /><ellipse cx="486" cy="506" rx="42" ry="37" fill="#f4b703"/><ellipse cx="496" cy="522" rx="30" ry="30" fill="#f4d4c0"/><path d="M184,307 L222,278 L313,422 L390,370 L361,298 L381,269 L400,259 L433,336 L447,480 L440,640 L445,770 L330,850 L160,925 L158,700 L200,500 L215,400 Z" fill="#2966c9" stroke="#2966c9" stroke-width="0.7" vector-effect="non-scaling-stroke" stroke-linejoin="round" /><path d="M177,312 L184,307 L270,446 L279,520 L298,600 L280,600 L240,520 L208,384 Z" fill="#ff9a0b" stroke="#ff9a0b" stroke-width="0.7" vector-effect="non-scaling-stroke" stroke-linejoin="round" /><path d="M222,278 L237,258 L304,307 L361,298 L390,370 L313,422 Z" fill="#ff9a0b" stroke="#ff9a0b" stroke-width="0.7" vector-effect="non-scaling-stroke" stroke-linejoin="round" /><path d="M239,212 Q255,235 275,240 L287,214 L290,250 Q300,285 323,298 L304,308 Q262,292 238,254 Z" fill="#cfa58f" stroke="#cfa58f" stroke-width="0.7" vector-effect="non-scaling-stroke" stroke-linejoin="round" /><path d="M237,190 Q243,184 253,185 Q262,190 270,206 L276,242 Q255,236 240,214 Z" fill="#f4d4c0" stroke="#f4d4c0" stroke-width="0.7" vector-effect="non-scaling-stroke" stroke-linejoin="round" /><path d="M289,122 Q320,116 352,138 L366,132 Q393,150 391,200 Q389,250 372,288 Q350,306 323,299 Q300,286 290,250 L287,214 L289,182 Q290,160 275,139 Q272,128 289,122 Z" fill="#f4d4c0" stroke="#f4d4c0" stroke-width="0.7" vector-effect="non-scaling-stroke" stroke-linejoin="round" /><path d="M229,158 Q233,95 294,69 Q348,72 368,133 L352,140 Q320,118 289,122 Q272,128 275,140 Q290,160 289,182 L287,214 Q275,212 270,206 Q262,190 253,185 Q243,184 237,190 Q229,176 229,158 Z" fill="#6a3a16" stroke="#6a3a16" stroke-width="0.7" vector-effect="non-scaling-stroke" stroke-linejoin="round" /><path d="M177,312 Q134,342 119,410 Q120,520 174,656 L270,696 Q316,690 324,650 L300,600 Q262,520 240,470 Q216,402 208,384 Z" fill="#d48b0b" stroke="#d48b0b" stroke-width="0.7" vector-effect="non-scaling-stroke" stroke-linejoin="round" /><path d="M266,692 Q316,688 326,642 L342,650 Q338,702 276,708 Z" fill="#f4b703" stroke="#f4b703" stroke-width="0.7" vector-effect="non-scaling-stroke" stroke-linejoin="round" /><path d="M332,640 L398,652 L402,692 L336,698 Z" fill="#f4d4c0" stroke="#f4d4c0" stroke-width="0.7" vector-effect="non-scaling-stroke" stroke-linejoin="round" /></g><g transform="translate(1100,540) scale(0.32907)"><polygon points="67,640 259,690 259,1016 67,911" fill="#ffa602" stroke="#ffa602" stroke-width="0.7" vector-effect="non-scaling-stroke" stroke-linejoin="round" /><polygon points="75,604 93,525 182,478 880,75 905,120 880,180 182,560" fill="#ffa602" stroke="#ffa602" stroke-width="0.7" vector-effect="non-scaling-stroke" stroke-linejoin="round" /><polygon points="110,588 122,540 190,500 190,545" fill="#f08a00" stroke="#f08a00" stroke-width="0.7" vector-effect="non-scaling-stroke" stroke-linejoin="round" /><polygon points="75,604 824,170 1000,232 251,666" fill="#4b4b4e" stroke="#4b4b4e" stroke-width="0.7" vector-effect="non-scaling-stroke" stroke-linejoin="round" /><path d="M75,604 Q30,622 40,662 Q48,690 80,700 L170,738 Q200,742 215,725 L251,666 Z" fill="#4b4b4e" stroke="#4b4b4e" stroke-width="0.7" vector-effect="non-scaling-stroke" stroke-linejoin="round" /><path d="M92,600 Q54,622 62,662" stroke="#3a3a3c" stroke-width="4" fill="none"/><path d="M130,613 Q92,635 100,675" stroke="#3a3a3c" stroke-width="4" fill="none"/><path d="M168,626 Q130,648 138,688" stroke="#3a3a3c" stroke-width="4" fill="none"/><path d="M206,639 Q168,661 176,701" stroke="#3a3a3c" stroke-width="4" fill="none"/><polygon points="236,655 280,640 280,722 236,722" fill="#4b4b4e" stroke="#4b4b4e" stroke-width="0.7" vector-effect="non-scaling-stroke" stroke-linejoin="round" /><ellipse cx="218" cy="698" rx="30" ry="40" transform="rotate(25 218 698)" fill="#8e9094"/><ellipse cx="228" cy="690" rx="10" ry="12" fill="#5b5b5e"/><ellipse cx="228" cy="690" rx="5" ry="6" fill="#8e9094"/><path d="M824,170 Q900,150 960,185 Q1030,225 1015,262 L1000,275 L940,250 Z" fill="#4b4b4e" stroke="#4b4b4e" stroke-width="0.7" vector-effect="non-scaling-stroke" stroke-linejoin="round" /><path d="M975,215 Q1018,235 1005,268 L990,262 Q1000,240 968,225 Z" fill="#6f7175" stroke="#6f7175" stroke-width="0.7" vector-effect="non-scaling-stroke" stroke-linejoin="round" /><line x1="231" y1="678" x2="141" y2="646" stroke="#38383a" stroke-width="5"/><line x1="343" y1="610" x2="253" y2="578" stroke="#38383a" stroke-width="5"/><line x1="455" y1="542" x2="365" y2="510" stroke="#38383a" stroke-width="5"/><line x1="567" y1="474" x2="477" y2="442" stroke="#38383a" stroke-width="5"/><line x1="679" y1="406" x2="589" y2="374" stroke="#38383a" stroke-width="5"/><line x1="791" y1="338" x2="701" y2="306" stroke="#38383a" stroke-width="5"/><line x1="903" y1="270" x2="813" y2="238" stroke="#38383a" stroke-width="5"/><polygon points="512,267 600,214 685,267 597,312" fill="#fcdaa8" stroke="#fcdaa8" stroke-width="0.7" vector-effect="non-scaling-stroke" stroke-linejoin="round" /><polygon points="512,267 597,312 597,406 512,362" fill="#f6d2a0" stroke="#f6d2a0" stroke-width="0.7" vector-effect="non-scaling-stroke" stroke-linejoin="round" /><polygon points="597,312 685,267 685,356 597,406" fill="#dbb785" stroke="#dbb785" stroke-width="0.7" vector-effect="non-scaling-stroke" stroke-linejoin="round" /><polygon points="549.7,239.3 565.4,231.10000000000002 650.3,286.4 650.3,313 631.4,322 631.4,295.8" fill="#8c6f50" stroke="#8c6f50" stroke-width="0.7" vector-effect="non-scaling-stroke" stroke-linejoin="round" /><polygon points="654,285 681,272 681,319 654,332" fill="#f4f2ee" stroke="#f4f2ee" stroke-width="0.7" vector-effect="non-scaling-stroke" stroke-linejoin="round" /><line x1="657" y1="291" x2="678" y2="281" stroke="#9b9b9b" stroke-width="2"/><line x1="657" y1="298" x2="678" y2="288" stroke="#9b9b9b" stroke-width="2"/><line x1="657" y1="305" x2="678" y2="295" stroke="#9b9b9b" stroke-width="2"/><line x1="657" y1="312" x2="678" y2="302" stroke="#9b9b9b" stroke-width="2"/><polygon points="657,320 678,310 678,317 657,327" fill="#7a7a7a" stroke="#7a7a7a" stroke-width="0.7" vector-effect="non-scaling-stroke" stroke-linejoin="round" /><line x1="606" y1="374" x2="641" y2="356" stroke="#b89a6c" stroke-width="2.5"/><line x1="606" y1="382" x2="641" y2="364" stroke="#b89a6c" stroke-width="2.5"/><line x1="606" y1="390" x2="641" y2="372" stroke="#b89a6c" stroke-width="2.5"/><polygon points="400,335 488,282 573,335 485,380" fill="#fcdaa8" stroke="#fcdaa8" stroke-width="0.7" vector-effect="non-scaling-stroke" stroke-linejoin="round" /><polygon points="400,335 485,380 485,474 400,430" fill="#f6d2a0" stroke="#f6d2a0" stroke-width="0.7" vector-effect="non-scaling-stroke" stroke-linejoin="round" /><polygon points="485,380 573,335 573,424 485,474" fill="#dbb785" stroke="#dbb785" stroke-width="0.7" vector-effect="non-scaling-stroke" stroke-linejoin="round" /><polygon points="437.7,307.3 453.4,299.1 538.3,354.4 538.3,381 519.4,390 519.4,363.8" fill="#8c6f50" stroke="#8c6f50" stroke-width="0.7" vector-effect="non-scaling-stroke" stroke-linejoin="round" /><polygon points="542,353 569,340 569,387 542,400" fill="#f4f2ee" stroke="#f4f2ee" stroke-width="0.7" vector-effect="non-scaling-stroke" stroke-linejoin="round" /><line x1="545" y1="359" x2="566" y2="349" stroke="#9b9b9b" stroke-width="2"/><line x1="545" y1="366" x2="566" y2="356" stroke="#9b9b9b" stroke-width="2"/><line x1="545" y1="373" x2="566" y2="363" stroke="#9b9b9b" stroke-width="2"/><line x1="545" y1="380" x2="566" y2="370" stroke="#9b9b9b" stroke-width="2"/><polygon points="545,388 566,378 566,385 545,395" fill="#7a7a7a" stroke="#7a7a7a" stroke-width="0.7" vector-effect="non-scaling-stroke" stroke-linejoin="round" /><line x1="494" y1="442" x2="529" y2="424" stroke="#b89a6c" stroke-width="2.5"/><line x1="494" y1="450" x2="529" y2="432" stroke="#b89a6c" stroke-width="2.5"/><line x1="494" y1="458" x2="529" y2="440" stroke="#b89a6c" stroke-width="2.5"/><polygon points="288,403 376,350 461,403 373,448" fill="#fcdaa8" stroke="#fcdaa8" stroke-width="0.7" vector-effect="non-scaling-stroke" stroke-linejoin="round" /><polygon points="288,403 373,448 373,542 288,498" fill="#f6d2a0" stroke="#f6d2a0" stroke-width="0.7" vector-effect="non-scaling-stroke" stroke-linejoin="round" /><polygon points="373,448 461,403 461,492 373,542" fill="#dbb785" stroke="#dbb785" stroke-width="0.7" vector-effect="non-scaling-stroke" stroke-linejoin="round" /><polygon points="325.7,375.3 341.4,367.1 426.3,422.4 426.3,449 407.4,458 407.4,431.8" fill="#8c6f50" stroke="#8c6f50" stroke-width="0.7" vector-effect="non-scaling-stroke" stroke-linejoin="round" /><polygon points="430,421 457,408 457,455 430,468" fill="#f4f2ee" stroke="#f4f2ee" stroke-width="0.7" vector-effect="non-scaling-stroke" stroke-linejoin="round" /><line x1="433" y1="427" x2="454" y2="417" stroke="#9b9b9b" stroke-width="2"/><line x1="433" y1="434" x2="454" y2="424" stroke="#9b9b9b" stroke-width="2"/><line x1="433" y1="441" x2="454" y2="431" stroke="#9b9b9b" stroke-width="2"/><line x1="433" y1="448" x2="454" y2="438" stroke="#9b9b9b" stroke-width="2"/><polygon points="433,456 454,446 454,453 433,463" fill="#7a7a7a" stroke="#7a7a7a" stroke-width="0.7" vector-effect="non-scaling-stroke" stroke-linejoin="round" /><line x1="382" y1="510" x2="417" y2="492" stroke="#b89a6c" stroke-width="2.5"/><line x1="382" y1="518" x2="417" y2="500" stroke="#b89a6c" stroke-width="2.5"/><line x1="382" y1="526" x2="417" y2="508" stroke="#b89a6c" stroke-width="2.5"/><polygon points="176,471 264,418 349,471 261,516" fill="#fcdaa8" stroke="#fcdaa8" stroke-width="0.7" vector-effect="non-scaling-stroke" stroke-linejoin="round" /><polygon points="176,471 261,516 261,610 176,566" fill="#f6d2a0" stroke="#f6d2a0" stroke-width="0.7" vector-effect="non-scaling-stroke" stroke-linejoin="round" /><polygon points="261,516 349,471 349,560 261,610" fill="#dbb785" stroke="#dbb785" stroke-width="0.7" vector-effect="non-scaling-stroke" stroke-linejoin="round" /><polygon points="213.7,443.3 229.4,435.1 314.3,490.4 314.3,517 295.4,526 295.4,499.8" fill="#8c6f50" stroke="#8c6f50" stroke-width="0.7" vector-effect="non-scaling-stroke" stroke-linejoin="round" /><polygon points="318,489 345,476 345,523 318,536" fill="#f4f2ee" stroke="#f4f2ee" stroke-width="0.7" vector-effect="non-scaling-stroke" stroke-linejoin="round" /><line x1="321" y1="495" x2="342" y2="485" stroke="#9b9b9b" stroke-width="2"/><line x1="321" y1="502" x2="342" y2="492" stroke="#9b9b9b" stroke-width="2"/><line x1="321" y1="509" x2="342" y2="499" stroke="#9b9b9b" stroke-width="2"/><line x1="321" y1="516" x2="342" y2="506" stroke="#9b9b9b" stroke-width="2"/><polygon points="321,524 342,514 342,521 321,531" fill="#7a7a7a" stroke="#7a7a7a" stroke-width="0.7" vector-effect="non-scaling-stroke" stroke-linejoin="round" /><line x1="270" y1="578" x2="305" y2="560" stroke="#b89a6c" stroke-width="2.5"/><line x1="270" y1="586" x2="305" y2="568" stroke="#b89a6c" stroke-width="2.5"/><line x1="270" y1="594" x2="305" y2="576" stroke="#b89a6c" stroke-width="2.5"/></g><g transform="translate(1290,540) scale(0.13158)"><polygon points="745,88 952,208 918,302 745,200" fill="#fbdcad" stroke="#fbdcad" stroke-width="0.7" vector-effect="non-scaling-stroke" stroke-linejoin="round" /><polygon points="488,290 745,160 918,302 700,398" fill="#dcb987" stroke="#dcb987" stroke-width="0.7" vector-effect="non-scaling-stroke" stroke-linejoin="round" /><polygon points="488,290 700,180 745,200 700,398" fill="#e6c493" stroke="#e6c493" stroke-width="0.7" vector-effect="non-scaling-stroke" stroke-linejoin="round" /><polygon points="470,300 488,290 700,398 700,430 592,448" fill="#fad8a8" stroke="#fad8a8" stroke-width="0.7" vector-effect="non-scaling-stroke" stroke-linejoin="round" /><polygon points="592,440 700,398 700,662 592,602" fill="#f6d2a0" stroke="#f6d2a0" stroke-width="0.7" vector-effect="non-scaling-stroke" stroke-linejoin="round" /><polygon points="700,398 918,302 918,548 700,662" fill="#dbb785" stroke="#dbb785" stroke-width="0.7" vector-effect="non-scaling-stroke" stroke-linejoin="round" /><polygon points="838,368 905,338 905,452 838,484" fill="#f4f2ee" stroke="#f4f2ee" stroke-width="0.7" vector-effect="non-scaling-stroke" stroke-linejoin="round" /><line x1="846" y1="382" x2="898" y2="358" stroke="#a5a5a5" stroke-width="4"/><line x1="846" y1="396" x2="898" y2="372" stroke="#a5a5a5" stroke-width="4"/><line x1="846" y1="410" x2="898" y2="386" stroke="#a5a5a5" stroke-width="4"/><line x1="846" y1="424" x2="898" y2="400" stroke="#a5a5a5" stroke-width="4"/><line x1="846" y1="438" x2="898" y2="414" stroke="#a5a5a5" stroke-width="4"/><polygon points="846,458 898,434 898,448 846,472" fill="#7a6a8a" stroke="#7a6a8a" stroke-width="0.7" vector-effect="non-scaling-stroke" stroke-linejoin="round" /><line x1="722" y1="588" x2="800" y2="550" stroke="#b89a6c" stroke-width="5"/><line x1="722" y1="604" x2="800" y2="566" stroke="#b89a6c" stroke-width="5"/><line x1="722" y1="620" x2="800" y2="582" stroke="#b89a6c" stroke-width="5"/><line x1="722" y1="636" x2="800" y2="598" stroke="#b89a6c" stroke-width="5"/><polygon points="100,452 430,270 600,392 360,520" fill="#e2bf8e" stroke="#e2bf8e" stroke-width="0.7" vector-effect="non-scaling-stroke" stroke-linejoin="round" /><polygon points="430,268 612,394 578,502 360,602 350,470" fill="#fbdcad" stroke="#fbdcad" stroke-width="0.7" vector-effect="non-scaling-stroke" stroke-linejoin="round" /><polygon points="92,448 360,520 360,604 120,522" fill="#dcb988" stroke="#dcb988" stroke-width="0.7" vector-effect="non-scaling-stroke" stroke-linejoin="round" /><polygon points="120,518 360,602 360,862 282,822 282,700" fill="#f6d2a0" stroke="#f6d2a0" stroke-width="0.7" vector-effect="non-scaling-stroke" stroke-linejoin="round" /><polygon points="360,602 578,502 578,745 360,862" fill="#dbb785" stroke="#dbb785" stroke-width="0.7" vector-effect="non-scaling-stroke" stroke-linejoin="round" /><polygon points="498,562 560,532 560,652 498,684" fill="#f4f2ee" stroke="#f4f2ee" stroke-width="0.7" vector-effect="non-scaling-stroke" stroke-linejoin="round" /><line x1="506" y1="578" x2="553" y2="555" stroke="#a5a5a5" stroke-width="4"/><line x1="506" y1="592" x2="553" y2="569" stroke="#a5a5a5" stroke-width="4"/><line x1="506" y1="606" x2="553" y2="583" stroke="#a5a5a5" stroke-width="4"/><line x1="506" y1="620" x2="553" y2="597" stroke="#a5a5a5" stroke-width="4"/><line x1="506" y1="634" x2="553" y2="611" stroke="#a5a5a5" stroke-width="4"/><line x1="382" y1="782" x2="462" y2="742" stroke="#b89a6c" stroke-width="5"/><line x1="382" y1="798" x2="462" y2="758" stroke="#b89a6c" stroke-width="5"/><line x1="382" y1="814" x2="462" y2="774" stroke="#b89a6c" stroke-width="5"/><line x1="382" y1="830" x2="462" y2="790" stroke="#b89a6c" stroke-width="5"/></g><g transform="translate(1100,540) scale(0.32907)"></g><g transform="translate(1100,540) scale(0.32907)"><path d="M259,700 Q258,660 290,640 L962,226 Q985,215 1000,240 L1011,275 L1011,590 L259,1016 Z" fill="#ff8d00" stroke="#ff8d00" stroke-width="0.7" vector-effect="non-scaling-stroke" stroke-linejoin="round" /><path d="M259,700 Q258,660 290,640 L962,226 Q985,215 1000,240 L1006,262 Q990,238 968,246 L300,655 Q272,672 272,712 Z" fill="#ffa30a" stroke="#ffa30a" stroke-width="0.7" vector-effect="non-scaling-stroke" stroke-linejoin="round" /><path d="M300.0,655.0 L372.0,613.0 Q380.0,609.0 380.0,617.0 L380.0,647.0 L300.0,693.0 Z" fill="#f68807" stroke="#f68807" stroke-width="0.7" vector-effect="non-scaling-stroke" stroke-linejoin="round" /><path d="M300.0,655.0 L372.0,613.0 Q380.0,609.0 380.0,617.0 L380.0,625.0 L308.0,667.0 L308.0,689.0 L300.0,693.0 Z" fill="#ec7b00" stroke="#ec7b00" stroke-width="0.7" vector-effect="non-scaling-stroke" stroke-linejoin="round" /><path d="M397.5,597.2 L469.5,555.2 Q477.5,551.2 477.5,559.2 L477.5,589.2 L397.5,635.2 Z" fill="#f68807" stroke="#f68807" stroke-width="0.7" vector-effect="non-scaling-stroke" stroke-linejoin="round" /><path d="M397.5,597.2 L469.5,555.2 Q477.5,551.2 477.5,559.2 L477.5,567.2 L405.5,609.2 L405.5,631.2 L397.5,635.2 Z" fill="#ec7b00" stroke="#ec7b00" stroke-width="0.7" vector-effect="non-scaling-stroke" stroke-linejoin="round" /><path d="M495.0,539.4 L567.0,497.4 Q575.0,493.4 575.0,501.4 L575.0,531.4 L495.0,577.4 Z" fill="#f68807" stroke="#f68807" stroke-width="0.7" vector-effect="non-scaling-stroke" stroke-linejoin="round" /><path d="M495.0,539.4 L567.0,497.4 Q575.0,493.4 575.0,501.4 L575.0,509.4 L503.0,551.4 L503.0,573.4 L495.0,577.4 Z" fill="#ec7b00" stroke="#ec7b00" stroke-width="0.7" vector-effect="non-scaling-stroke" stroke-linejoin="round" /><path d="M592.5,481.6 L664.5,439.6 Q672.5,435.6 672.5,443.6 L672.5,473.6 L592.5,519.6 Z" fill="#f68807" stroke="#f68807" stroke-width="0.7" vector-effect="non-scaling-stroke" stroke-linejoin="round" /><path d="M592.5,481.6 L664.5,439.6 Q672.5,435.6 672.5,443.6 L672.5,451.6 L600.5,493.6 L600.5,515.6 L592.5,519.6 Z" fill="#ec7b00" stroke="#ec7b00" stroke-width="0.7" vector-effect="non-scaling-stroke" stroke-linejoin="round" /><path d="M690.0,423.8 L762.0,381.8 Q770.0,377.8 770.0,385.8 L770.0,415.8 L690.0,461.8 Z" fill="#f68807" stroke="#f68807" stroke-width="0.7" vector-effect="non-scaling-stroke" stroke-linejoin="round" /><path d="M690.0,423.8 L762.0,381.8 Q770.0,377.8 770.0,385.8 L770.0,393.8 L698.0,435.8 L698.0,457.8 L690.0,461.8 Z" fill="#ec7b00" stroke="#ec7b00" stroke-width="0.7" vector-effect="non-scaling-stroke" stroke-linejoin="round" /><path d="M787.5,366.0 L859.5,324.0 Q867.5,320.0 867.5,328.0 L867.5,358.0 L787.5,404.0 Z" fill="#f68807" stroke="#f68807" stroke-width="0.7" vector-effect="non-scaling-stroke" stroke-linejoin="round" /><path d="M787.5,366.0 L859.5,324.0 Q867.5,320.0 867.5,328.0 L867.5,336.0 L795.5,378.0 L795.5,400.0 L787.5,404.0 Z" fill="#ec7b00" stroke="#ec7b00" stroke-width="0.7" vector-effect="non-scaling-stroke" stroke-linejoin="round" /><path d="M885.0,308.20000000000005 L957.0,266.20000000000005 Q965.0,262.20000000000005 965.0,270.20000000000005 L965.0,300.20000000000005 L885.0,346.20000000000005 Z" fill="#f68807" stroke="#f68807" stroke-width="0.7" vector-effect="non-scaling-stroke" stroke-linejoin="round" /><path d="M885.0,308.20000000000005 L957.0,266.20000000000005 Q965.0,262.20000000000005 965.0,270.20000000000005 L965.0,278.20000000000005 L893.0,320.20000000000005 L893.0,342.20000000000005 L885.0,346.20000000000005 Z" fill="#ec7b00" stroke="#ec7b00" stroke-width="0.7" vector-effect="non-scaling-stroke" stroke-linejoin="round" /></g><g transform="translate(1290,540) scale(0.13158)"><path d="M300,130 Q360,120 385,175 L330,200 Z" fill="#0c0c0c" stroke="#0c0c0c" stroke-width="0.7" vector-effect="non-scaling-stroke" stroke-linejoin="round" /><polygon points="85,205 250,105 425,205 258,300" fill="#f24253" stroke="#f24253" stroke-width="0.7" vector-effect="non-scaling-stroke" stroke-linejoin="round" /><polygon points="85,205 258,300 258,502 95,420" fill="#dd3144" stroke="#dd3144" stroke-width="0.7" vector-effect="non-scaling-stroke" stroke-linejoin="round" /><polygon points="258,300 425,205 425,405 258,502" fill="#c5283a" stroke="#c5283a" stroke-width="0.7" vector-effect="non-scaling-stroke" stroke-linejoin="round" /><polygon points="280,338 405,276 405,388 280,452" fill="#ff9c0a" stroke="#ff9c0a" stroke-width="0.7" vector-effect="non-scaling-stroke" stroke-linejoin="round" /><ellipse cx="190" cy="222" rx="24" ry="18" fill="#f2a900"/><ellipse cx="190" cy="215" rx="22" ry="15" fill="#f8c21c"/><ellipse cx="310" cy="158" rx="24" ry="18" fill="#f2a900"/><ellipse cx="310" cy="151" rx="22" ry="15" fill="#f8c21c"/><path d="M-20,330 Q20,280 110,275 Q150,270 160,295 Q240,300 245,345 Q230,400 140,410 Q60,425 10,400 Z" fill="#0c0c0c" stroke="#0c0c0c" stroke-width="0.7" vector-effect="non-scaling-stroke" stroke-linejoin="round" /></g>
<!-- p_shelf --><polygon points="1449,729.4 1557.5,791 1812,640.5 1704,579" fill="#a9abb3" stroke="#a9abb3" stroke-width="0.7" vector-effect="non-scaling-stroke" stroke-linejoin="round" /><g transform="translate(1450,310) scale(0.31020)"><polygon points="1032,1048 1082,1020 1134,1052 1084,1080" fill="#3f80e6" stroke="#3f80e6" stroke-width="0.7" vector-effect="non-scaling-stroke" stroke-linejoin="round" /><polygon points="1032,1048 1084,1080 1084,1094 1032,1062" fill="#2966c9" stroke="#2966c9" stroke-width="0.7" vector-effect="non-scaling-stroke" stroke-linejoin="round" /><polygon points="1084,1080 1134,1052 1134,1066 1084,1094" fill="#1f52aa" stroke="#1f52aa" stroke-width="0.7" vector-effect="non-scaling-stroke" stroke-linejoin="round" /><polygon points="848,74 876.5,90.53 876.5,935.53 848,919" fill="#2966c9" stroke="#2966c9" stroke-width="0.7" vector-effect="non-scaling-stroke" stroke-linejoin="round" /><polygon points="876.5,90.53 905,74 905,919 876.5,935.53" fill="#1f52aa" stroke="#1f52aa" stroke-width="0.7" vector-effect="non-scaling-stroke" stroke-linejoin="round" /><polygon points="848,74 876.5,57.47 905,74 876.5,90.53" fill="#3f80e6" stroke="#3f80e6" stroke-width="0.7" vector-effect="non-scaling-stroke" stroke-linejoin="round" /><polygon points="1055,246 1082.5,261.95 1082.5,1063.95 1055,1048" fill="#2966c9" stroke="#2966c9" stroke-width="0.7" vector-effect="non-scaling-stroke" stroke-linejoin="round" /><polygon points="1082.5,261.95 1110,246 1110,1048 1082.5,1063.95" fill="#1f52aa" stroke="#1f52aa" stroke-width="0.7" vector-effect="non-scaling-stroke" stroke-linejoin="round" /><polygon points="1055,246 1082.5,230.05 1110,246 1082.5,261.95" fill="#3f80e6" stroke="#3f80e6" stroke-width="0.7" vector-effect="non-scaling-stroke" stroke-linejoin="round" /><polygon points="49,1029 816,589 1133,774 366,1214" fill="#ffab2e" stroke="#ffab2e" stroke-width="0.7" vector-effect="non-scaling-stroke" stroke-linejoin="round" /><polygon points="49,1029 366,1214 366,1257 49,1072" fill="#ff9f10" stroke="#ff9f10" stroke-width="0.7" vector-effect="non-scaling-stroke" stroke-linejoin="round" /><polygon points="366,1214 1133,774 1133,817 366,1257" fill="#f59300" stroke="#f59300" stroke-width="0.7" vector-effect="non-scaling-stroke" stroke-linejoin="round" /></g><g transform="translate(1520,520) scale(0.16913)"><polygon points="560,-80 920,-287 1320,-57 960,150" fill="#fcdaa8" stroke="#fcdaa8" stroke-width="0.7" vector-effect="non-scaling-stroke" stroke-linejoin="round" /><polygon points="560,-80 960,150 960,522 560,292" fill="#f6d2a0" stroke="#f6d2a0" stroke-width="0.7" vector-effect="non-scaling-stroke" stroke-linejoin="round" /><polygon points="960,150 1320,-57 1320,330 960,522" fill="#dbb785" stroke="#dbb785" stroke-width="0.7" vector-effect="non-scaling-stroke" stroke-linejoin="round" /><polygon points="1168,60 1200,42 1200,110 1168,128" fill="#f6f4f1" stroke="#f6f4f1" stroke-width="0.7" vector-effect="non-scaling-stroke" stroke-linejoin="round" /><line x1="990" y1="425" x2="1110" y2="362" stroke="#b89a6c" stroke-width="7"/><line x1="990" y1="447" x2="1110" y2="384" stroke="#b89a6c" stroke-width="7"/><line x1="990" y1="469" x2="1110" y2="406" stroke="#b89a6c" stroke-width="7"/><polygon points="158,770 362,880 895,578 880,570 362,865 165,760" fill="#dc9320" stroke="#dc9320" stroke-width="0.7" vector-effect="non-scaling-stroke" stroke-linejoin="round" /><polygon points="165,438 648,165 880,310 880,570 362,865 165,760" fill="#fcdaa8" stroke="#fcdaa8" stroke-width="0.7" vector-effect="non-scaling-stroke" stroke-linejoin="round" /><polygon points="165,492 362,600 362,865 165,760" fill="#f6d2a0" stroke="#f6d2a0" stroke-width="0.7" vector-effect="non-scaling-stroke" stroke-linejoin="round" /><polygon points="362,600 880,310 880,570 362,865" fill="#dbb785" stroke="#dbb785" stroke-width="0.7" vector-effect="non-scaling-stroke" stroke-linejoin="round" /><polygon points="365,320 400,300 640,445 640,520 605,540 605,465" fill="#8c6f50" stroke="#8c6f50" stroke-width="0.7" vector-effect="non-scaling-stroke" stroke-linejoin="round" /><polygon points="800,375 865,345 865,470 800,500" fill="#f6f4f1" stroke="#f6f4f1" stroke-width="0.7" vector-effect="non-scaling-stroke" stroke-linejoin="round" /><line x1="807.8" y1="386.4" x2="857.2" y2="363.6" stroke="#a9a9a9" stroke-width="5.6"/><line x1="807.8" y1="401.4" x2="857.2" y2="378.6" stroke="#a9a9a9" stroke-width="5.6"/><line x1="807.8" y1="416.4" x2="857.2" y2="393.6" stroke="#a9a9a9" stroke-width="5.6"/><line x1="807.8" y1="431.4" x2="857.2" y2="408.6" stroke="#a9a9a9" stroke-width="5.6"/><polygon points="806.5,459.5 858.5,435.5 858.5,460.5 806.5,484.5" fill="#8d8da8" stroke="#8d8da8" stroke-width="0.7" vector-effect="non-scaling-stroke" stroke-linejoin="round" /><line x1="425" y1="745" x2="520" y2="695" stroke="#b89a6c" stroke-width="7"/><line x1="425" y1="770" x2="520" y2="720" stroke="#b89a6c" stroke-width="7"/><line x1="425" y1="795" x2="520" y2="745" stroke="#b89a6c" stroke-width="7"/></g><g transform="translate(1450,310) scale(0.31020)"><polygon points="50,625 817,185 1132,365 365,805" fill="#ffab2e" stroke="#ffab2e" stroke-width="0.7" vector-effect="non-scaling-stroke" stroke-linejoin="round" /><polygon points="50,625 365,805 365,845 50,665" fill="#ff9f10" stroke="#ff9f10" stroke-width="0.7" vector-effect="non-scaling-stroke" stroke-linejoin="round" /><polygon points="365,805 1132,365 1132,402 365,845" fill="#f59300" stroke="#f59300" stroke-width="0.7" vector-effect="non-scaling-stroke" stroke-linejoin="round" /><polygon points="365,845 560,733 560,770 425,848 365,870" fill="#f08c00" stroke="#f08c00" stroke-width="0.7" vector-effect="non-scaling-stroke" stroke-linejoin="round" /><polygon points="640,387 850,509 1046,389 1030,385 850,495 658,385" fill="#dc9320" stroke="#dc9320" stroke-width="0.7" vector-effect="non-scaling-stroke" stroke-linejoin="round" /><polygon points="658,190 835,85 1030,190 850,300" fill="#fcdaa8" stroke="#fcdaa8" stroke-width="0.7" vector-effect="non-scaling-stroke" stroke-linejoin="round" /><polygon points="658,190 850,300 850,495 658,385" fill="#f6d2a0" stroke="#f6d2a0" stroke-width="0.7" vector-effect="non-scaling-stroke" stroke-linejoin="round" /><polygon points="850,300 1030,190 1030,385 850,495" fill="#dbb785" stroke="#dbb785" stroke-width="0.7" vector-effect="non-scaling-stroke" stroke-linejoin="round" /><polygon points="734.1099999999999,144.85 758.8899999999999,130.15 952.5999999999999,237.3 952.5999999999999,295.3 927.3999999999999,322.7 927.3999999999999,252.7" fill="#8c6f50" stroke="#8c6f50" stroke-width="0.7" vector-effect="non-scaling-stroke" stroke-linejoin="round" /><polygon points="965.2,255.6 1015.6,224.79999999999998 1015.6,286.79999999999995 965.2,317.6" fill="#f6f4f1" stroke="#f6f4f1" stroke-width="0.7" vector-effect="non-scaling-stroke" stroke-linejoin="round" /><line x1="971.248" y1="261.82399999999996" x2="1009.552" y2="238.41599999999997" stroke="#a9a9a9" stroke-width="2.8"/><line x1="971.248" y1="272.364" x2="1009.552" y2="248.956" stroke="#a9a9a9" stroke-width="2.8"/><line x1="971.248" y1="282.90399999999994" x2="1009.552" y2="259.496" stroke="#a9a9a9" stroke-width="2.8"/><line x1="971.248" y1="293.44399999999996" x2="1009.552" y2="270.036" stroke="#a9a9a9" stroke-width="2.8"/><line x1="971.248" y1="303.984" x2="1009.552" y2="280.576" stroke="#a9a9a9" stroke-width="2.8"/><polygon points="965.2,327.6 1015.6,296.8 1015.6,320.8 965.2,351.6" fill="#f6f4f1" stroke="#f6f4f1" stroke-width="0.7" vector-effect="non-scaling-stroke" stroke-linejoin="round" /><line x1="970.2" y1="328.5" x2="970.2" y2="344.5" stroke="#6f7594" stroke-width="3"/><line x1="976.5" y1="324.7" x2="976.5" y2="340.7" stroke="#6f7594" stroke-width="3"/><line x1="982.8" y1="320.8" x2="982.8" y2="336.8" stroke="#6f7594" stroke-width="3"/><line x1="989.1" y1="317.0" x2="989.1" y2="333.0" stroke="#6f7594" stroke-width="3"/><line x1="995.4" y1="313.1" x2="995.4" y2="329.1" stroke="#6f7594" stroke-width="3"/><line x1="1001.7" y1="309.3" x2="1001.7" y2="325.3" stroke="#6f7594" stroke-width="3"/><line x1="1008.0" y1="305.4" x2="1008.0" y2="321.4" stroke="#6f7594" stroke-width="3"/><line x1="868.0" y1="414.0" x2="940.0" y2="370.0" stroke="#b89a6c" stroke-width="5"/><line x1="868.0" y1="431.0" x2="940.0" y2="387.0" stroke="#b89a6c" stroke-width="5"/><line x1="868.0" y1="448.0" x2="940.0" y2="404.0" stroke="#b89a6c" stroke-width="5"/><polygon points="427,507 640,629 836,514 820,510 640,615 445,505" fill="#dc9320" stroke="#dc9320" stroke-width="0.7" vector-effect="non-scaling-stroke" stroke-linejoin="round" /><polygon points="445,310 625,205 820,315 640,420" fill="#fcdaa8" stroke="#fcdaa8" stroke-width="0.7" vector-effect="non-scaling-stroke" stroke-linejoin="round" /><polygon points="445,310 640,420 640,615 445,505" fill="#f6d2a0" stroke="#f6d2a0" stroke-width="0.7" vector-effect="non-scaling-stroke" stroke-linejoin="round" /><polygon points="640,420 820,315 820,510 640,615" fill="#dbb785" stroke="#dbb785" stroke-width="0.7" vector-effect="non-scaling-stroke" stroke-linejoin="round" /><polygon points="522.4,264.85 547.5999999999999,250.15 742.5999999999999,360.15 742.5999999999999,418.15 717.4,444.84999999999997 717.4,374.84999999999997" fill="#8c6f50" stroke="#8c6f50" stroke-width="0.7" vector-effect="non-scaling-stroke" stroke-linejoin="round" /><polygon points="755.2,378.8 805.6,349.40000000000003 805.6,411.40000000000003 755.2,440.8" fill="#f6f4f1" stroke="#f6f4f1" stroke-width="0.7" vector-effect="non-scaling-stroke" stroke-linejoin="round" /><line x1="761.248" y1="385.192" x2="799.552" y2="362.848" stroke="#a9a9a9" stroke-width="2.8"/><line x1="761.248" y1="395.732" x2="799.552" y2="373.38800000000003" stroke="#a9a9a9" stroke-width="2.8"/><line x1="761.248" y1="406.272" x2="799.552" y2="383.928" stroke="#a9a9a9" stroke-width="2.8"/><line x1="761.248" y1="416.812" x2="799.552" y2="394.468" stroke="#a9a9a9" stroke-width="2.8"/><line x1="761.248" y1="427.35200000000003" x2="799.552" y2="405.00800000000004" stroke="#a9a9a9" stroke-width="2.8"/><polygon points="755.2,450.8 805.6,421.40000000000003 805.6,445.40000000000003 755.2,474.8" fill="#f6f4f1" stroke="#f6f4f1" stroke-width="0.7" vector-effect="non-scaling-stroke" stroke-linejoin="round" /><line x1="760.2" y1="451.9" x2="760.2" y2="467.9" stroke="#6f7594" stroke-width="3"/><line x1="766.5" y1="448.2" x2="766.5" y2="464.2" stroke="#6f7594" stroke-width="3"/><line x1="772.8" y1="444.5" x2="772.8" y2="460.5" stroke="#6f7594" stroke-width="3"/><line x1="779.1" y1="440.8" x2="779.1" y2="456.8" stroke="#6f7594" stroke-width="3"/><line x1="785.4" y1="437.2" x2="785.4" y2="453.2" stroke="#6f7594" stroke-width="3"/><line x1="791.7" y1="433.5" x2="791.7" y2="449.5" stroke="#6f7594" stroke-width="3"/><line x1="798.0" y1="429.8" x2="798.0" y2="445.8" stroke="#6f7594" stroke-width="3"/><line x1="658.0" y1="534.5" x2="730.0" y2="492.5" stroke="#b89a6c" stroke-width="5"/><line x1="658.0" y1="551.5" x2="730.0" y2="509.5" stroke="#b89a6c" stroke-width="5"/><line x1="658.0" y1="568.5" x2="730.0" y2="526.5" stroke="#b89a6c" stroke-width="5"/><polygon points="202,639 410,759 611,641 595,637 410,745 220,637" fill="#dc9320" stroke="#dc9320" stroke-width="0.7" vector-effect="non-scaling-stroke" stroke-linejoin="round" /><polygon points="220,440 405,333 595,440 410,548" fill="#fcdaa8" stroke="#fcdaa8" stroke-width="0.7" vector-effect="non-scaling-stroke" stroke-linejoin="round" /><polygon points="220,440 410,548 410,745 220,637" fill="#f6d2a0" stroke="#f6d2a0" stroke-width="0.7" vector-effect="non-scaling-stroke" stroke-linejoin="round" /><polygon points="410,548 595,440 595,637 410,745" fill="#dbb785" stroke="#dbb785" stroke-width="0.7" vector-effect="non-scaling-stroke" stroke-linejoin="round" /><polygon points="299.55,393.99 325.45,379.01 515.45,486.43999999999994 515.45,544.4399999999999 489.54999999999995,571.56 489.54999999999995,501.55999999999995" fill="#8c6f50" stroke="#8c6f50" stroke-width="0.7" vector-effect="non-scaling-stroke" stroke-linejoin="round" /><polygon points="528.4,504.88 580.1999999999999,474.64 580.1999999999999,536.64 528.4,566.88" fill="#f6f4f1" stroke="#f6f4f1" stroke-width="0.7" vector-effect="non-scaling-stroke" stroke-linejoin="round" /><line x1="534.616" y1="511.17119999999994" x2="573.9839999999999" y2="488.18879999999996" stroke="#a9a9a9" stroke-width="2.8"/><line x1="534.616" y1="521.7112" x2="573.9839999999999" y2="498.7287999999999" stroke="#a9a9a9" stroke-width="2.8"/><line x1="534.616" y1="532.2512" x2="573.9839999999999" y2="509.2688" stroke="#a9a9a9" stroke-width="2.8"/><line x1="534.616" y1="542.7912" x2="573.9839999999999" y2="519.8087999999999" stroke="#a9a9a9" stroke-width="2.8"/><line x1="534.616" y1="553.3312" x2="573.9839999999999" y2="530.3487999999999" stroke="#a9a9a9" stroke-width="2.8"/><polygon points="528.4,576.88 580.1999999999999,546.64 580.1999999999999,570.64 528.4,600.88" fill="#f6f4f1" stroke="#f6f4f1" stroke-width="0.7" vector-effect="non-scaling-stroke" stroke-linejoin="round" /><line x1="533.6" y1="577.9" x2="533.6" y2="593.9" stroke="#6f7594" stroke-width="3"/><line x1="540.1" y1="574.1" x2="540.1" y2="590.1" stroke="#6f7594" stroke-width="3"/><line x1="546.5" y1="570.3" x2="546.5" y2="586.3" stroke="#6f7594" stroke-width="3"/><line x1="553.0" y1="566.5" x2="553.0" y2="582.5" stroke="#6f7594" stroke-width="3"/><line x1="559.5" y1="562.7" x2="559.5" y2="578.7" stroke="#6f7594" stroke-width="3"/><line x1="566.0" y1="559.0" x2="566.0" y2="575.0" stroke="#6f7594" stroke-width="3"/><line x1="572.4" y1="555.2" x2="572.4" y2="571.2" stroke="#6f7594" stroke-width="3"/><line x1="428.5" y1="664.2" x2="502.5" y2="621.0" stroke="#b89a6c" stroke-width="5"/><line x1="428.5" y1="681.2" x2="502.5" y2="638.0" stroke="#b89a6c" stroke-width="5"/><line x1="428.5" y1="698.2" x2="502.5" y2="655.0" stroke="#b89a6c" stroke-width="5"/><polygon points="37,1370 87,1342 139,1374 89,1402" fill="#3f80e6" stroke="#3f80e6" stroke-width="0.7" vector-effect="non-scaling-stroke" stroke-linejoin="round" /><polygon points="37,1370 89,1402 89,1416 37,1384" fill="#2966c9" stroke="#2966c9" stroke-width="0.7" vector-effect="non-scaling-stroke" stroke-linejoin="round" /><polygon points="89,1402 139,1374 139,1388 89,1416" fill="#1f52aa" stroke="#1f52aa" stroke-width="0.7" vector-effect="non-scaling-stroke" stroke-linejoin="round" /><polygon points="58,585 86.5,601.53 86.5,1388.53 58,1372" fill="#2966c9" stroke="#2966c9" stroke-width="0.7" vector-effect="non-scaling-stroke" stroke-linejoin="round" /><polygon points="86.5,601.53 115,585 115,1372 86.5,1388.53" fill="#1f52aa" stroke="#1f52aa" stroke-width="0.7" vector-effect="non-scaling-stroke" stroke-linejoin="round" /><polygon points="58,585 86.5,568.47 115,585 86.5,601.53" fill="#3f80e6" stroke="#3f80e6" stroke-width="0.7" vector-effect="non-scaling-stroke" stroke-linejoin="round" /><polygon points="238,1487 288,1459 340,1491 290,1519" fill="#3f80e6" stroke="#3f80e6" stroke-width="0.7" vector-effect="non-scaling-stroke" stroke-linejoin="round" /><polygon points="238,1487 290,1519 290,1533 238,1501" fill="#2966c9" stroke="#2966c9" stroke-width="0.7" vector-effect="non-scaling-stroke" stroke-linejoin="round" /><polygon points="290,1519 340,1491 340,1505 290,1533" fill="#1f52aa" stroke="#1f52aa" stroke-width="0.7" vector-effect="non-scaling-stroke" stroke-linejoin="round" /><polygon points="260,703 287.5,718.95 287.5,1504.95 260,1489" fill="#2966c9" stroke="#2966c9" stroke-width="0.7" vector-effect="non-scaling-stroke" stroke-linejoin="round" /><polygon points="287.5,718.95 315,703 315,1489 287.5,1504.95" fill="#1f52aa" stroke="#1f52aa" stroke-width="0.7" vector-effect="non-scaling-stroke" stroke-linejoin="round" /><polygon points="260,703 287.5,687.05 315,703 287.5,718.95" fill="#3f80e6" stroke="#3f80e6" stroke-width="0.7" vector-effect="non-scaling-stroke" stroke-linejoin="round" /></g><g transform="translate(1450,540) scale(0.24437)"><path d="M1295,806 Q1302,794 1322,805 L1411,880 Q1418,914 1392,917 Q1340,902 1295,806 Z" fill="#4a2414" stroke="#4a2414" stroke-width="0.7" vector-effect="non-scaling-stroke" stroke-linejoin="round" /><path d="M1290,400 Q1380,380 1404,335 L1410,500 L1424,700 L1424,868 Q1380,882 1340,850 L1320,700 L1282,520 Z" fill="#1f4fa2" stroke="#1f4fa2" stroke-width="0.7" vector-effect="non-scaling-stroke" stroke-linejoin="round" /><path d="M1045,930 Q1080,905 1145,910 L1258,948 L1262,972 L1050,945 Z" fill="#4a2414" stroke="#4a2414" stroke-width="0.7" vector-effect="non-scaling-stroke" stroke-linejoin="round" /><path d="M1118,320 L1404,320 L1404,335 Q1380,382 1292,402 Q1268,520 1268,640 L1274,800 L1260,952 Q1200,966 1148,940 L1152,800 L1138,600 L1120,400 Z" fill="#2966c9" stroke="#2966c9" stroke-width="0.7" vector-effect="non-scaling-stroke" stroke-linejoin="round" /></g><g transform="translate(1650,420) scale(0.18797)"><path d="M715,780 L750,760 L755,800 L725,838 Z" fill="#0c0c0c" stroke="#0c0c0c" stroke-width="0.7" vector-effect="non-scaling-stroke" stroke-linejoin="round" /><path d="M745,735 L800,720 L790,760 L755,790 Z" fill="#6b3a14" stroke="#6b3a14" stroke-width="0.7" vector-effect="non-scaling-stroke" stroke-linejoin="round" /><path d="M740,378 Q812,372 832,440 L877,640 Q884,702 842,722 L762,748 L748,690 L792,640 L770,520 Z" fill="#b5292e" stroke="#b5292e" stroke-width="0.7" vector-effect="non-scaling-stroke" stroke-linejoin="round" /><path d="M748,690 L860,640 Q884,690 842,722 L762,748 Z" fill="#d93c41" stroke="#d93c41" stroke-width="0.7" vector-effect="non-scaling-stroke" stroke-linejoin="round" /><path d="M530,340 L620,355 L672,345 L684,395 L540,436 Z" fill="#6b3a14" stroke="#6b3a14" stroke-width="0.7" vector-effect="non-scaling-stroke" stroke-linejoin="round" /><path d="M482,196 Q474,260 490,300 Q494,346 536,352 L566,362 Q540,320 522,272 L522,240 Q500,230 482,196 Z" fill="#6b3a14" stroke="#6b3a14" stroke-width="0.7" vector-effect="non-scaling-stroke" stroke-linejoin="round" /><path d="M480,200 Q478,118 580,108 Q702,112 714,230 Q712,332 622,362 Q560,356 540,320 Q520,270 520,240 Q498,230 480,200 Z" fill="#0e0e0e" stroke="#0e0e0e" stroke-width="0.7" vector-effect="non-scaling-stroke" stroke-linejoin="round" /><path d="M440,500 Q520,440 600,410 L690,385 Q760,365 790,395 L800,470 L760,640 L600,690 L470,600 Z" fill="#d93c41" stroke="#d93c41" stroke-width="0.7" vector-effect="non-scaling-stroke" stroke-linejoin="round" /><path d="M440,505 L520,455 Q584,470 602,540 L606,672 L742,600 L746,420 L720,384 L762,378 L778,432 L772,640 L752,720 L746,820 L762,1064 L388,1064 L398,900 L420,850 L520,600 Z" fill="#2966c9" stroke="#2966c9" stroke-width="0.7" vector-effect="non-scaling-stroke" stroke-linejoin="round" /><polygon points="120,478 292,383 326,652 216,704" fill="#5a3118" stroke="#5a3118" stroke-width="0.7" vector-effect="non-scaling-stroke" stroke-linejoin="round" /><polygon points="145,486 294,402 318,628 216,690" fill="#fbfbfb" stroke="#fbfbfb" stroke-width="0.7" vector-effect="non-scaling-stroke" stroke-linejoin="round" /><line x1="165" y1="492" x2="262" y2="438" stroke="#a9acb3" stroke-width="12"/><line x1="165" y1="517" x2="262" y2="463" stroke="#a9acb3" stroke-width="12"/><line x1="165" y1="572" x2="270" y2="518" stroke="#a9acb3" stroke-width="12"/><path d="M140,688 L192,668 L272,736 L236,802 L160,762 Z" fill="#6b3a14" stroke="#6b3a14" stroke-width="0.7" vector-effect="non-scaling-stroke" stroke-linejoin="round" /><path d="M100,622 Q108,580 150,590 L190,584 Q202,610 182,640 L182,672 L140,702 Q100,682 100,622 Z" fill="#0c0c0c" stroke="#0c0c0c" stroke-width="0.7" vector-effect="non-scaling-stroke" stroke-linejoin="round" /><path d="M470,490 Q420,500 400,560 L340,720 L262,734 Q224,760 230,812 Q250,880 330,886 L422,852 Q472,822 502,760 L562,600 Q562,520 520,494 Z" fill="#b5292e" stroke="#b5292e" stroke-width="0.7" vector-effect="non-scaling-stroke" stroke-linejoin="round" /><path d="M262,734 Q224,760 230,812 Q250,880 330,886 L300,860 Q262,830 280,760 Z" fill="#d93c41" stroke="#d93c41" stroke-width="0.7" vector-effect="non-scaling-stroke" stroke-linejoin="round" /><path d="M520,494 Q562,520 562,600 L502,760 Q472,822 440,860 L470,760 L538,600 Q540,530 520,494 Z" fill="#d93c41" stroke="#d93c41" stroke-width="0.7" vector-effect="non-scaling-stroke" stroke-linejoin="round" /></g>
<!-- p_charts --><g transform="translate(1900,320) scale(0.26316)"><defs>
<linearGradient id="wtop" gradientUnits="userSpaceOnUse" x1="818" y1="340" x2="1500" y2="330"><stop offset="0" stop-color="#faf7ff"/><stop offset="0.5" stop-color="#f3eefe"/><stop offset="0.9" stop-color="#ede8fd"/><stop offset="1" stop-color="#e9e4fc" stop-opacity="0.9"/></linearGradient>
<linearGradient id="wside" gradientUnits="userSpaceOnUse" x1="818" y1="400" x2="1280" y2="680"><stop offset="0" stop-color="#fdfbff"/><stop offset="0.45" stop-color="#f2edfe"/><stop offset="1" stop-color="#eae5fc"/></linearGradient>
<linearGradient id="wcurve" gradientUnits="userSpaceOnUse" x1="1275" y1="650" x2="1500" y2="400"><stop offset="0" stop-color="#f9f6ff"/><stop offset="0.6" stop-color="#f1ecfd"/><stop offset="1" stop-color="#e9e4fc" stop-opacity="0.8"/></linearGradient>
<filter id="soft" x="-5%" y="-5%" width="110%" height="110%"><feGaussianBlur stdDeviation="7"/></filter>
</defs><polygon points="795,525 975,422.4 975,527.4 795,630" fill="#8f63e6" stroke="#8f63e6" stroke-width="0.7" vector-effect="non-scaling-stroke" stroke-linejoin="round" /><path d="M121,525 A675,390 0 0 0 338,790 L338,895 A675,390 0 0 1 121,630 Z" fill="#c35cb5" stroke="#c35cb5" stroke-width="0.7" vector-effect="non-scaling-stroke" stroke-linejoin="round" /><path d="M338,790 A675,390 0 0 0 1252,790 L1252,895 A675,390 0 0 1 338,895 Z" fill="#6486d8" stroke="#6486d8" stroke-width="0.7" vector-effect="non-scaling-stroke" stroke-linejoin="round" /><path d="M795,525 L121,525 A675,390 0 0 1 300,240 Z" fill="#7ff0fb" stroke="#7ff0fb" stroke-width="0.7" vector-effect="non-scaling-stroke" stroke-linejoin="round" /><path d="M795,525 L338,790 A675,390 0 0 1 121,525 Z" fill="#e070cb" stroke="#e070cb" stroke-width="0.7" vector-effect="non-scaling-stroke" stroke-linejoin="round" /><path d="M795,525 L300,240 A675,390 0 0 1 1294,240.5 Z" fill="#a679f5" stroke="#a679f5" stroke-width="0.7" vector-effect="non-scaling-stroke" stroke-linejoin="round" /><path d="M795,525 L1252,790 A675,390 0 0 1 338,790 Z" fill="#6b94f7" stroke="#6b94f7" stroke-width="0.7" vector-effect="non-scaling-stroke" stroke-linejoin="round" /><path d="M818,340 L1317,55.5 A675,390 0 0 1 1493,318 L1493,423 A675,390 0 0 1 1275,710 L818,445 Z" fill="#efeafd" stroke="#efeafd" stroke-width="0.7" vector-effect="non-scaling-stroke" stroke-linejoin="round" filter="url(#soft)" opacity="0.9"/><path d="M1493,318 A675,390 0 0 1 1275,605 L1275,710 A675,390 0 0 0 1493,423 Z" fill="url(#wcurve)" /><path d="M818,336 L1275,601 L1275,710 L818,445 Z" fill="url(#wside)" /><path d="M818,340 L1317,55.5 A675,390 0 0 1 1275,605 Z" fill="url(#wtop)" /></g><g transform="translate(1900,600) scale(0.39485)"><polygon points="322,165 520,280 520,735 322,620" fill="#9265ea" stroke="#9265ea" stroke-width="0.7" vector-effect="non-scaling-stroke" stroke-linejoin="round" /><polygon points="520,280 718,165 718,620 520,735" fill="#9c6fec" stroke="#9c6fec" stroke-width="0.7" vector-effect="non-scaling-stroke" stroke-linejoin="round" /><polygon points="322,165 520,50 718,165 520,280" fill="#a679f5" stroke="#a679f5" stroke-width="0.7" vector-effect="non-scaling-stroke" stroke-linejoin="round" /><text transform="matrix(0.866,-0.5,0.866,0.5,524,165)" text-anchor="middle" y="27" font-size="75" font-weight="700" fill="#fdf5ff" textLength="140" lengthAdjust="spacingAndGlyphs">80%</text><polygon points="80,450 278,565 278,875 80,760" fill="#6b94f9" stroke="#6b94f9" stroke-width="0.7" vector-effect="non-scaling-stroke" stroke-linejoin="round" /><polygon points="278,565 476,450 476,760 278,875" fill="#6486d8" stroke="#6486d8" stroke-width="0.7" vector-effect="non-scaling-stroke" stroke-linejoin="round" /><polygon points="80,450 278,335 476,450 278,565" fill="#7399f3" stroke="#7399f3" stroke-width="0.7" vector-effect="non-scaling-stroke" stroke-linejoin="round" /><text transform="matrix(0.866,-0.5,0.866,0.5,282,450)" text-anchor="middle" y="27" font-size="75" font-weight="700" fill="#fdf5ff" textLength="140" lengthAdjust="spacingAndGlyphs">60%</text><polygon points="570,580 768,695 768,880 570,765" fill="#cf5bbd" stroke="#cf5bbd" stroke-width="0.7" vector-effect="non-scaling-stroke" stroke-linejoin="round" /><polygon points="768,695 966,580 966,765 768,880" fill="#c45cb4" stroke="#c45cb4" stroke-width="0.7" vector-effect="non-scaling-stroke" stroke-linejoin="round" /><polygon points="570,580 768,465 966,580 768,695" fill="#e070cd" stroke="#e070cd" stroke-width="0.7" vector-effect="non-scaling-stroke" stroke-linejoin="round" /><text transform="matrix(0.866,-0.5,0.866,0.5,772,580)" text-anchor="middle" y="27" font-size="75" font-weight="700" fill="#fdf5ff" textLength="140" lengthAdjust="spacingAndGlyphs">40%</text><polygon points="328,775 526,890 526,1018 328,903" fill="#63d4df" stroke="#63d4df" stroke-width="0.7" vector-effect="non-scaling-stroke" stroke-linejoin="round" /><polygon points="526,890 724,775 724,903 526,1018" fill="#58b1bc" stroke="#58b1bc" stroke-width="0.7" vector-effect="non-scaling-stroke" stroke-linejoin="round" /><polygon points="328,775 526,660 724,775 526,890" fill="#7ff0fb" stroke="#7ff0fb" stroke-width="0.7" vector-effect="non-scaling-stroke" stroke-linejoin="round" /><text transform="matrix(0.866,-0.5,0.866,0.5,530,775)" text-anchor="middle" y="27" font-size="75" font-weight="700" fill="#fdf5ff" textLength="140" lengthAdjust="spacingAndGlyphs">30%</text></g>
<!-- p_overlay --><defs><filter id="cblur" x="-10%" y="-20%" width="120%" height="140%"><feGaussianBlur stdDeviation="2.2"/></filter></defs><line x1="875.8" y1="294.6" x2="875.8" y2="469" stroke="#2a6fdb" stroke-width="2.2"/><circle cx="875.8" cy="294.6" r="5.8" fill="#2a6fdb"/><line x1="1383.4" y1="425.5" x2="1383.4" y2="592" stroke="#2a6fdb" stroke-width="2.2"/><circle cx="1383.4" cy="425.5" r="5.8" fill="#2a6fdb"/><line x1="1632.9" y1="207.3" x2="1632.9" y2="400" stroke="#2a6fdb" stroke-width="2.2"/><circle cx="1632.9" cy="207.3" r="5.8" fill="#2a6fdb"/><rect x="790.8" y="146.1" width="269" height="118.5" rx="9.3" fill="#5f6a86" opacity="0.62" filter="url(#cblur)"/><rect x="788" y="141.5" width="269" height="118.5" rx="9.3" fill="#ffffff"/><text x="805.5" y="179.0" font-size="14.11" font-weight="700" fill="#3a3a3c" textLength="167.4" lengthAdjust="spacingAndGlyphs">Lathe Machine Processing</text><text x="805.5" y="202.5" font-size="11.97" fill="#b0aeae" textLength="65.0" lengthAdjust="spacingAndGlyphs">In Progress</text><text x="814.3" y="237.3" font-size="18.37" fill="#4a4a4a" textLength="77.5" lengthAdjust="spacingAndGlyphs">01:05 hrs</text><circle cx="1033.5" cy="173.0" r="4.7" fill="#1aa51d"/><rect x="1192.0" y="261.0" width="290" height="128" rx="10.0" fill="#5f6a86" opacity="0.62" filter="url(#cblur)"/><rect x="1189" y="256" width="290" height="128" rx="10.0" fill="#ffffff"/><text x="1207.9" y="296.4" font-size="15.20" font-weight="700" fill="#3a3a3c" textLength="180.4" lengthAdjust="spacingAndGlyphs">Lathe Machine Processing</text><text x="1207.9" y="321.7" font-size="12.90" fill="#b0aeae" textLength="70.0" lengthAdjust="spacingAndGlyphs">In Progress</text><text x="1217.3" y="359.2" font-size="19.80" fill="#4a4a4a" textLength="83.5" lengthAdjust="spacingAndGlyphs">01:05 hrs</text><circle cx="1453.6" cy="289.9" r="5.1" fill="#1aa51d"/><rect x="1469.0" y="47.0" width="289.5" height="127.5" rx="10.0" fill="#5f6a86" opacity="0.62" filter="url(#cblur)"/><rect x="1466" y="42" width="289.5" height="127.5" rx="10.0" fill="#ffffff"/><text x="1484.9" y="82.4" font-size="15.20" font-weight="700" fill="#3a3a3c" textLength="180.4" lengthAdjust="spacingAndGlyphs">Lathe Machine Processing</text><text x="1484.9" y="107.7" font-size="12.90" fill="#b0aeae" textLength="70.0" lengthAdjust="spacingAndGlyphs">In Progress</text><text x="1494.3" y="145.2" font-size="19.80" fill="#4a4a4a" textLength="83.5" lengthAdjust="spacingAndGlyphs">01:05 hrs</text><circle cx="1730.6" cy="75.9" r="5.1" fill="#1aa51d"/><rect x="702" y="729" width="202" height="80.5" rx="40.25" fill="#e0f3fe"/><text x="759.3" y="778.5" font-size="29.6" font-weight="700" fill="#0a68a6" textLength="87.4" lengthAdjust="spacingAndGlyphs">Step 1</text><rect x="1029" y="876" width="200" height="80" rx="40.0" fill="#e0f3fe"/><text x="1082.3" y="924.8" font-size="29.6" font-weight="700" fill="#0a68a6" textLength="91.8" lengthAdjust="spacingAndGlyphs">Step 2</text><rect x="1574" y="770" width="201" height="80" rx="40.0" fill="#e0f3fe"/><text x="1626.8" y="819.3" font-size="29.6" font-weight="700" fill="#0a68a6" textLength="92.5" lengthAdjust="spacingAndGlyphs">Step 3</text>
</svg>
</div></body></html>
